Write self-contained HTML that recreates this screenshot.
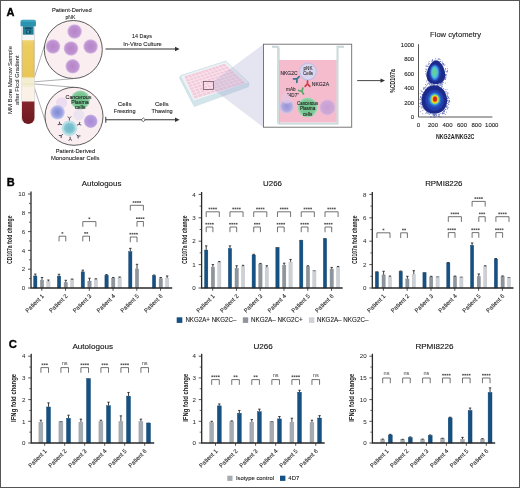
<!DOCTYPE html><html><head><meta charset="utf-8"><style>html,body{margin:0;padding:0;background:#fff;}svg{display:block;will-change:transform;font-family:"Liberation Sans",sans-serif;}</style></head><body>
<svg width="520" height="488" viewBox="0 0 520 488">
<defs>
<radialGradient id="pcell" cx="50%" cy="50%" r="50%"><stop offset="0" stop-color="#b584c8"/><stop offset="0.75" stop-color="#bf93d1"/><stop offset="1" stop-color="#dcc3e6"/></radialGradient>
<radialGradient id="gcell" cx="50%" cy="50%" r="50%"><stop offset="0" stop-color="#6fbf88"/><stop offset="0.75" stop-color="#7cc896"/><stop offset="1" stop-color="#a9dbb8"/></radialGradient>
<radialGradient id="bcell" cx="50%" cy="50%" r="50%"><stop offset="0" stop-color="#8189d6"/><stop offset="0.6" stop-color="#98a0e0"/><stop offset="1" stop-color="#c9ccf0"/></radialGradient>
<radialGradient id="lcell" cx="50%" cy="50%" r="50%"><stop offset="0" stop-color="#d4c4e6"/><stop offset="1" stop-color="#ece2f2"/></radialGradient>
<radialGradient id="tcell" cx="50%" cy="50%" r="50%"><stop offset="0" stop-color="#6fb9c8"/><stop offset="0.7" stop-color="#7ec3d0"/><stop offset="1" stop-color="#9fd2dc"/></radialGradient>
<radialGradient id="vcell" cx="50%" cy="50%" r="50%"><stop offset="0" stop-color="#a98ad6"/><stop offset="0.8" stop-color="#b59cdc"/><stop offset="1" stop-color="#cfbfe8"/></radialGradient>
<filter id="blur0" x="-30%" y="-30%" width="160%" height="160%"><feGaussianBlur stdDeviation="0.45"/></filter>
<filter id="blur1" x="-30%" y="-30%" width="160%" height="160%"><feGaussianBlur stdDeviation="0.9"/></filter>
<filter id="blur2" x="-30%" y="-30%" width="160%" height="160%"><feGaussianBlur stdDeviation="1.4"/></filter>
</defs>
<rect x="0.5" y="0.5" width="519" height="487" fill="none" stroke="#555" stroke-width="1"/>
<text x="6.5" y="15.8" font-size="11" font-weight="bold" fill="#000" stroke="#000" stroke-width="0.35">A</text>
<text x="-80" y="11.8" font-size="5.95" text-anchor="middle" fill="#222" stroke="#222" stroke-width="0.05" textLength="67.8" lengthAdjust="spacingAndGlyphs" transform="rotate(-90)">MM Bone Marrow Sample</text>
<text x="-80.15" y="18.5" font-size="5.95" text-anchor="middle" fill="#222" stroke="#222" stroke-width="0.05" textLength="49.5" lengthAdjust="spacingAndGlyphs" transform="rotate(-90)">after Ficol Gradient</text>
<g stroke="#9a9a9a" stroke-width="0.8" fill="none"><path d="M34.3 77.6 L44.6 45"/><path d="M34.3 81.8 L73 78.7"/><path d="M34.3 84 L74 87.3"/><path d="M34.3 87.5 L45.6 122"/></g>
<defs><linearGradient id="yel" x1="0" y1="0" x2="0" y2="1"><stop offset="0" stop-color="#efd472"/><stop offset="0.15" stop-color="#edcc5f"/><stop offset="1" stop-color="#e9c657"/></linearGradient><linearGradient id="red" x1="0" y1="0" x2="0" y2="1"><stop offset="0" stop-color="#84252b"/><stop offset="1" stop-color="#6e1a20"/></linearGradient></defs>
<rect x="21.8" y="26" width="12.8" height="95" rx="0.5" fill="#f6f6f6" stroke="#c4c4c4" stroke-width="0.6"/>
<rect x="22.3" y="40.2" width="11.8" height="37.2" fill="url(#yel)"/>
<path d="M22.4 40.2 V77.4 M34 40.2 V77.4" stroke="#cdb672" stroke-width="0.7"/>
<rect x="22.3" y="77.4" width="11.8" height="1" fill="#efd98e"/>
<rect x="22.3" y="78.4" width="11.8" height="9" fill="#f2eecf"/>
<rect x="22.3" y="83.6" width="11.8" height="0.8" fill="#e8e2bf"/>
<rect x="22.3" y="87.4" width="11.8" height="14" fill="#fcf1e7"/>
<path d="M22 101.4 H34.4 V117.8 A6.2 6.2 0 0 1 22 117.8 Z" fill="url(#red)"/>
<path d="M20.5 21.8 Q20.5 19.8 22.5 19.8 H33.9 Q35.9 19.8 35.9 21.8 V26.3 H20.5 Z" fill="#2a93b0"/>
<rect x="21" y="20.3" width="14.4" height="1.4" fill="#4fb0c8" opacity="0.8"/>
<rect x="22.9" y="26.2" width="10.7" height="8.5" fill="#217f99"/>
<path d="M25 27.5 H31.5 V29.2 H25 Z M26 30.5 H30.8 V33.5 H26 Z" fill="#0f4d60"/>
<rect x="27.3" y="31.2" width="1.6" height="1.4" fill="#6cc0d2"/>
<circle cx="73.3" cy="49.5" r="29" fill="#fbeef1" stroke="#4a4a4a" stroke-width="0.9"/>
<circle cx="74.6" cy="31.5" r="7.3" fill="url(#pcell)"/>
<circle cx="53" cy="46.5" r="7.3" fill="url(#pcell)"/>
<circle cx="71" cy="48.5" r="7.3" fill="url(#pcell)"/>
<circle cx="90.6" cy="46.5" r="7.3" fill="url(#pcell)"/>
<circle cx="72.7" cy="66.3" r="7.3" fill="url(#pcell)"/>
<text x="71.75" y="12" font-size="6.2" text-anchor="middle" fill="#222" stroke="#222" stroke-width="0.1" font-weight="normal" textLength="39.7" lengthAdjust="spacingAndGlyphs">Patient-Derived</text>
<text x="70.4" y="19.2" font-size="6.2" text-anchor="middle" fill="#222" stroke="#222" stroke-width="0.1" font-weight="normal" textLength="9.8" lengthAdjust="spacingAndGlyphs">pNK</text>
<circle cx="74" cy="116.3" r="29" fill="#fbeef1" stroke="#4a4a4a" stroke-width="0.9"/>
<circle cx="61.6" cy="102.8" r="5.6" fill="#ebdcf0"/>
<circle cx="57.5" cy="112.3" r="7.3" fill="url(#bcell)"/>
<circle cx="78.8" cy="114.7" r="5.6" fill="#ebe3ef"/>
<circle cx="90.7" cy="121.3" r="6.8" fill="url(#vcell)"/>
<circle cx="80.3" cy="100" r="9.6" fill="url(#gcell)"/>
<circle cx="69.4" cy="128.2" r="7.8" fill="#b9dfe6"/>
<circle cx="69.4" cy="128.2" r="5.8" fill="url(#tcell)"/>
<g transform="translate(69.4 118.3) rotate(0)" stroke="#3a4656" stroke-width="0.9" fill="none"><path d="M0 2.2 V0 M0 0 L-1.7 -1.8 M0 0 L1.7 -1.8"/></g>
<g transform="translate(60 124) rotate(-65.92)" stroke="#3a4656" stroke-width="0.9" fill="none"><path d="M0 2.2 V0 M0 0 L-1.7 -1.8 M0 0 L1.7 -1.8"/></g>
<g transform="translate(79 124.3) rotate(67.89)" stroke="#3a4656" stroke-width="0.9" fill="none"><path d="M0 2.2 V0 M0 0 L-1.7 -1.8 M0 0 L1.7 -1.8"/></g>
<g transform="translate(61.3 135.6) rotate(227.59)" stroke="#3a4656" stroke-width="0.9" fill="none"><path d="M0 2.2 V0 M0 0 L-1.7 -1.8 M0 0 L1.7 -1.8"/></g>
<g transform="translate(78 136) rotate(132.21)" stroke="#3a4656" stroke-width="0.9" fill="none"><path d="M0 2.2 V0 M0 0 L-1.7 -1.8 M0 0 L1.7 -1.8"/></g>
<g transform="translate(70.2 138.9) rotate(175.72)" stroke="#3a4656" stroke-width="0.9" fill="none"><path d="M0 2.2 V0 M0 0 L-1.7 -1.8 M0 0 L1.7 -1.8"/></g>
<text x="78.5" y="98.8" font-size="5.3" text-anchor="middle" fill="#222" stroke="#222" stroke-width="0.1" font-weight="normal" textLength="26" lengthAdjust="spacingAndGlyphs">Cancerous</text>
<text x="80" y="104" font-size="5.3" text-anchor="middle" fill="#222" stroke="#222" stroke-width="0.1" font-weight="normal" >Plasma</text>
<text x="80.2" y="109.1" font-size="5.3" text-anchor="middle" fill="#222" stroke="#222" stroke-width="0.1" font-weight="normal" >cells</text>
<text x="75.5" y="153" font-size="6.2" text-anchor="middle" fill="#222" stroke="#222" stroke-width="0.1" font-weight="normal" textLength="39.4" lengthAdjust="spacingAndGlyphs">Patient-Derived</text>
<text x="75.2" y="160.4" font-size="6.2" text-anchor="middle" fill="#222" stroke="#222" stroke-width="0.1" font-weight="normal" textLength="48.4" lengthAdjust="spacingAndGlyphs">Mononuclear Cells</text>
<text x="142" y="38.3" font-size="6.2" text-anchor="middle" fill="#222" stroke="#222" stroke-width="0.1" font-weight="normal" textLength="19.9" lengthAdjust="spacingAndGlyphs">14 Days</text>
<text x="142.5" y="45.8" font-size="6.2" text-anchor="middle" fill="#222" stroke="#222" stroke-width="0.1" font-weight="normal" textLength="38.6" lengthAdjust="spacingAndGlyphs">In-Vitro Culture</text>
<path d="M105.5 49 H176" stroke="#333" stroke-width="1.1"/><path d="M175 46.8 L179.6 49 L175 51.2Z" fill="#333"/>
<text x="124.7" y="105.5" font-size="6.2" text-anchor="middle" fill="#222" stroke="#222" stroke-width="0.1" font-weight="normal" >Cells</text>
<text x="124.7" y="113" font-size="6.2" text-anchor="middle" fill="#222" stroke="#222" stroke-width="0.1" font-weight="normal" textLength="21.7" lengthAdjust="spacingAndGlyphs">Freezing</text>
<text x="161.8" y="105.5" font-size="6.2" text-anchor="middle" fill="#222" stroke="#222" stroke-width="0.1" font-weight="normal" >Cells</text>
<text x="162.1" y="113" font-size="6.2" text-anchor="middle" fill="#222" stroke="#222" stroke-width="0.1" font-weight="normal" textLength="21.1" lengthAdjust="spacingAndGlyphs">Thawing</text>
<path d="M105.8 119.8 H176" stroke="#333" stroke-width="1.1"/><path d="M105.8 116.8 V122.8" stroke="#333" stroke-width="1"/><path d="M175 117.6 L179.6 119.8 L175 122Z" fill="#333"/>
<path d="M141.3 119.8 L143.3 117.9 L145.3 119.8 L143.3 121.7Z" fill="#fff" stroke="#333" stroke-width="0.7"/>
<path d="M180.4 75.8 L225.8 61.2 L248.8 82.7 L248.8 86.6 L194.2 106.6 L179.6 78.2 Z" fill="#d2e5eb" stroke="#bcd5dd" stroke-width="0.5"/>
<path d="M180.4 75.8 L225.8 61.2 L248.8 82.7 L193.5 101.2 Z" fill="#edf2f5" stroke="#c4dae1" stroke-width="0.5"/>
<path d="M184.5 76.6 L224.6 63.8 L245.2 83 L194.6 98.6 Z" fill="#f4cadb"/>
<path d="M187.84 75.53L198.82 97.3 M191.18 74.47L203.03 96 M194.53 73.4L207.25 94.7 M197.87 72.33L211.47 93.4 M201.21 71.27L215.68 92.1 M204.55 70.2L219.9 90.8 M207.89 69.13L224.12 89.5 M211.23 68.07L228.33 88.2 M214.57 67L232.55 86.9 M217.92 65.93L236.77 85.6 M221.26 64.87L240.98 84.3 M185.76 79.35L227.17 66.2 M187.03 82.1L229.75 68.6 M188.29 84.85L232.32 71 M189.55 87.6L234.9 73.4 M190.81 90.35L237.47 75.8 M192.07 93.1L240.05 78.2 M193.34 95.85L242.62 80.6" stroke="#f8e6ee" stroke-width="0.9" fill="none"/>
<path d="M213.5 81.3 L263.4 44.2 L263.4 127.3 L213.5 89.5 Z" fill="#a4a7cf" fill-opacity="0.29"/>
<rect x="203.3" y="81.4" width="10.2" height="8.1" fill="none" stroke="#5a4555" stroke-width="0.7"/>
<rect x="263.5" y="44.2" width="88.2" height="83" fill="#fff" stroke="#6a6a6a" stroke-width="0.9"/>
<rect x="278.3" y="60" width="59" height="62.5" fill="#f5bccd"/>
<path d="M272 47 H278.4 V123.3 H337.3 V47 H344" stroke="#d3dede" stroke-width="1.8" fill="none"/>
<path d="M272 46.1 H277.5 V122.4 M279.3 47.9 V124.2 H338.2 V47.9 M336.4 46.1 H344" stroke="#b4c4c6" stroke-width="0.45" fill="none"/>
<circle cx="308" cy="71.6" r="8.4" fill="#dad6ef" stroke="#c4bfe3" stroke-width="1.2"/>
<circle cx="286.8" cy="106.5" r="7.2" fill="url(#bcell)" opacity="0.8"/>
<circle cx="286.8" cy="98" r="5.5" fill="#e6c7e3" opacity="0.7"/>
<circle cx="327.4" cy="107.4" r="8" fill="url(#vcell)" opacity="0.6"/>
<circle cx="307.6" cy="107.4" r="10" fill="url(#gcell)"/>
<g transform="translate(297 78.8) rotate(225)" stroke="#3a7391" stroke-width="1.7" fill="none" stroke-linecap="round"><path d="M0 0 V3 M0 0 L-2.4 -2.6 M0 0 L2.4 -2.6"/></g>
<g transform="translate(307.5 83.8) rotate(180)" stroke="#cf4148" stroke-width="1.7" fill="none" stroke-linecap="round"><path d="M0 0 V3 M0 0 L-2.4 -2.6 M0 0 L2.4 -2.6"/></g>
<g transform="translate(302 91.5) rotate(-30)" stroke="#55a868" stroke-width="1.7" fill="none" stroke-linecap="round"><path d="M0 0 V3 M0 0 L-2.4 -2.6 M0 0 L2.4 -2.6"/></g>
<text x="308" y="69.6" font-size="4.6" text-anchor="middle" fill="#333" stroke="#333" stroke-width="0.1" font-weight="normal" >pNK</text>
<text x="308" y="75" font-size="4.6" text-anchor="middle" fill="#333" stroke="#333" stroke-width="0.1" font-weight="normal" >Cells</text>
<text x="289" y="75.1" font-size="4.8" text-anchor="middle" fill="#2a2a35" stroke="#2a2a35" stroke-width="0.1" font-weight="normal" textLength="17" lengthAdjust="spacingAndGlyphs">NKG2C</text>
<text x="320.4" y="85.7" font-size="4.8" text-anchor="middle" fill="#2a2a35" stroke="#2a2a35" stroke-width="0.1" font-weight="normal" textLength="17.3" lengthAdjust="spacingAndGlyphs">NKG2A</text>
<text x="290.8" y="91.3" font-size="4.6" text-anchor="middle" fill="#333" stroke="#333" stroke-width="0.1" font-weight="normal" >mAb</text>
<text x="293" y="96.5" font-size="4.6" text-anchor="middle" fill="#333" stroke="#333" stroke-width="0.1" font-weight="normal" >"4D7"</text>
<text x="307.6" y="105.2" font-size="4.6" text-anchor="middle" fill="#222" stroke="#222" stroke-width="0.1" font-weight="normal" textLength="21" lengthAdjust="spacingAndGlyphs">Cancerous</text>
<text x="307.6" y="110.4" font-size="4.6" text-anchor="middle" fill="#222" stroke="#222" stroke-width="0.1" font-weight="normal" >Plasma</text>
<text x="307.6" y="115.6" font-size="4.6" text-anchor="middle" fill="#222" stroke="#222" stroke-width="0.1" font-weight="normal" >cells</text>
<path d="M357.2 80.6 H381" stroke="#333" stroke-width="0.9"/><path d="M380.5 78.4 L385 80.6 L380.5 82.8Z" fill="#333"/>
<text x="455.6" y="36.9" font-size="7.6" text-anchor="middle" fill="#222" stroke="#222" stroke-width="0.12" font-weight="normal" >Flow cytometry</text>
<path d="M418.5 44.2 V117 H492.4" stroke="#444" stroke-width="0.9" fill="none"/>
<text x="414.2" y="119.1" font-size="6" text-anchor="end" fill="#222" stroke="#222" stroke-width="0.1" font-weight="normal" >0</text>
<text x="418.5" y="126.8" font-size="6" text-anchor="middle" fill="#222" stroke="#222" stroke-width="0.1" font-weight="normal" >0</text>
<text x="414.2" y="104.6" font-size="6" text-anchor="end" fill="#222" stroke="#222" stroke-width="0.1" font-weight="normal" >200</text>
<text x="433" y="126.8" font-size="6" text-anchor="middle" fill="#222" stroke="#222" stroke-width="0.1" font-weight="normal" >200</text>
<text x="414.2" y="90.1" font-size="6" text-anchor="end" fill="#222" stroke="#222" stroke-width="0.1" font-weight="normal" >400</text>
<text x="447.5" y="126.8" font-size="6" text-anchor="middle" fill="#222" stroke="#222" stroke-width="0.1" font-weight="normal" >400</text>
<text x="414.2" y="75.6" font-size="6" text-anchor="end" fill="#222" stroke="#222" stroke-width="0.1" font-weight="normal" >600</text>
<text x="462" y="126.8" font-size="6" text-anchor="middle" fill="#222" stroke="#222" stroke-width="0.1" font-weight="normal" >600</text>
<text x="414.2" y="61.1" font-size="6" text-anchor="end" fill="#222" stroke="#222" stroke-width="0.1" font-weight="normal" >800</text>
<text x="476.5" y="126.8" font-size="6" text-anchor="middle" fill="#222" stroke="#222" stroke-width="0.1" font-weight="normal" >800</text>
<text x="414.2" y="46.6" font-size="6" text-anchor="end" fill="#222" stroke="#222" stroke-width="0.1" font-weight="normal" >1000</text>
<text x="491.8" y="126.8" font-size="6" text-anchor="middle" fill="#222" stroke="#222" stroke-width="0.1" font-weight="normal" >1000</text>
<text x="455.2" y="138.5" font-size="7" font-weight="bold" text-anchor="middle" fill="#1a1a1a" textLength="38.4" lengthAdjust="spacingAndGlyphs">NKG2A/NKG2C</text>
<text x="-81" y="395.3" font-size="7.4" font-weight="bold" text-anchor="middle" fill="#1a1a1a" textLength="23.6" lengthAdjust="spacingAndGlyphs" transform="rotate(-90)">%CD107a</text>
<g opacity="0.8"><rect x="431.07" y="83.73" width="0.8" height="0.8" fill="#2a3a9c"/><rect x="445.34" y="78.12" width="0.8" height="0.8" fill="#2a3a9c"/><rect x="426.29" y="69.64" width="0.8" height="0.8" fill="#2a3a9c"/><rect x="426.02" y="71.74" width="0.8" height="0.8" fill="#2a3a9c"/><rect x="445.22" y="75.12" width="0.8" height="0.8" fill="#2a3a9c"/><rect x="443.76" y="78.68" width="0.8" height="0.8" fill="#2a3a9c"/><rect x="427.1" y="77.75" width="0.8" height="0.8" fill="#2a3a9c"/><rect x="437.36" y="84.36" width="0.8" height="0.8" fill="#2a3a9c"/><rect x="428.18" y="62.73" width="0.8" height="0.8" fill="#2a3a9c"/><rect x="427.83" y="79.67" width="0.8" height="0.8" fill="#2a3a9c"/><rect x="447.11" y="70.18" width="0.8" height="0.8" fill="#2a3a9c"/><rect x="433.23" y="84.31" width="0.8" height="0.8" fill="#2a3a9c"/><rect x="441.94" y="82.13" width="0.8" height="0.8" fill="#2a3a9c"/><rect x="439.76" y="60.95" width="0.8" height="0.8" fill="#2a3a9c"/><rect x="440.26" y="84.39" width="0.8" height="0.8" fill="#2a3a9c"/><rect x="428.61" y="81.34" width="0.8" height="0.8" fill="#2a3a9c"/><rect x="426.37" y="68.74" width="0.8" height="0.8" fill="#2a3a9c"/><rect x="438.31" y="83.64" width="0.8" height="0.8" fill="#2a3a9c"/><rect x="431.35" y="60.81" width="0.8" height="0.8" fill="#2a3a9c"/><rect x="427.26" y="66.09" width="0.8" height="0.8" fill="#2a3a9c"/><rect x="426.11" y="75.88" width="0.8" height="0.8" fill="#2a3a9c"/><rect x="432.14" y="59.05" width="0.8" height="0.8" fill="#2a3a9c"/><rect x="436.09" y="85.41" width="0.8" height="0.8" fill="#2a3a9c"/><rect x="442.79" y="63.56" width="0.8" height="0.8" fill="#2a3a9c"/><rect x="434.39" y="59.88" width="0.8" height="0.8" fill="#2a3a9c"/><rect x="444.89" y="82.7" width="0.8" height="0.8" fill="#2a3a9c"/><rect x="427.49" y="78.03" width="0.8" height="0.8" fill="#2a3a9c"/><rect x="425.68" y="73.16" width="0.8" height="0.8" fill="#2a3a9c"/><rect x="445.73" y="75.41" width="0.8" height="0.8" fill="#2a3a9c"/><rect x="425.77" y="66.25" width="0.8" height="0.8" fill="#2a3a9c"/><rect x="442.85" y="63.53" width="0.8" height="0.8" fill="#2a3a9c"/><rect x="426.58" y="64.71" width="0.8" height="0.8" fill="#2a3a9c"/><rect x="425.64" y="65.48" width="0.8" height="0.8" fill="#2a3a9c"/><rect x="445.09" y="68.1" width="0.8" height="0.8" fill="#2a3a9c"/><rect x="426.22" y="74.22" width="0.8" height="0.8" fill="#2a3a9c"/><rect x="432.78" y="60.83" width="0.8" height="0.8" fill="#2a3a9c"/><rect x="428.78" y="60.98" width="0.8" height="0.8" fill="#2a3a9c"/><rect x="433.65" y="83.74" width="0.8" height="0.8" fill="#2a3a9c"/><rect x="428.53" y="80.02" width="0.8" height="0.8" fill="#2a3a9c"/><rect x="426.37" y="75.13" width="0.8" height="0.8" fill="#2a3a9c"/><rect x="440.47" y="82.71" width="0.8" height="0.8" fill="#2a3a9c"/><rect x="436.8" y="60.45" width="0.8" height="0.8" fill="#2a3a9c"/><rect x="442.17" y="80.74" width="0.8" height="0.8" fill="#2a3a9c"/><rect x="442.97" y="62.91" width="0.8" height="0.8" fill="#2a3a9c"/><rect x="445.1" y="78.73" width="0.8" height="0.8" fill="#2a3a9c"/><rect x="443.02" y="64.17" width="0.8" height="0.8" fill="#2a3a9c"/><rect x="439.92" y="61.11" width="0.8" height="0.8" fill="#2a3a9c"/><rect x="427.01" y="78.62" width="0.8" height="0.8" fill="#2a3a9c"/><rect x="428.43" y="83.32" width="0.8" height="0.8" fill="#2a3a9c"/><rect x="442.28" y="83.62" width="0.8" height="0.8" fill="#2a3a9c"/><rect x="439.94" y="82.78" width="0.8" height="0.8" fill="#2a3a9c"/><rect x="425.53" y="73.49" width="0.8" height="0.8" fill="#2a3a9c"/><rect x="427.73" y="66.13" width="0.8" height="0.8" fill="#2a3a9c"/><rect x="427.4" y="78.02" width="0.8" height="0.8" fill="#2a3a9c"/><rect x="427.56" y="83.1" width="0.8" height="0.8" fill="#2a3a9c"/><rect x="431.85" y="60.2" width="0.8" height="0.8" fill="#2a3a9c"/><rect x="425.1" y="71.02" width="0.8" height="0.8" fill="#2a3a9c"/><rect x="445.64" y="76.63" width="0.8" height="0.8" fill="#2a3a9c"/><rect x="443.64" y="65.14" width="0.8" height="0.8" fill="#2a3a9c"/><rect x="439.15" y="58.56" width="0.8" height="0.8" fill="#2a3a9c"/><rect x="428.04" y="79.89" width="0.8" height="0.8" fill="#2a3a9c"/><rect x="429.24" y="63.34" width="0.8" height="0.8" fill="#2a3a9c"/><rect x="445.04" y="77.05" width="0.8" height="0.8" fill="#2a3a9c"/><rect x="440.79" y="82.52" width="0.8" height="0.8" fill="#2a3a9c"/><rect x="430.65" y="82.12" width="0.8" height="0.8" fill="#2a3a9c"/><rect x="441.17" y="81.75" width="0.8" height="0.8" fill="#2a3a9c"/><rect x="443.39" y="79.33" width="0.8" height="0.8" fill="#2a3a9c"/><rect x="442.46" y="63.89" width="0.8" height="0.8" fill="#2a3a9c"/><rect x="428.23" y="64.26" width="0.8" height="0.8" fill="#2a3a9c"/><rect x="429.9" y="82.49" width="0.8" height="0.8" fill="#2a3a9c"/><rect x="428.49" y="82.5" width="0.8" height="0.8" fill="#2a3a9c"/><rect x="446.62" y="71.72" width="0.8" height="0.8" fill="#2a3a9c"/><rect x="426.05" y="74.88" width="0.8" height="0.8" fill="#2a3a9c"/><rect x="443.27" y="79.28" width="0.8" height="0.8" fill="#2a3a9c"/><rect x="430.42" y="82.19" width="0.8" height="0.8" fill="#2a3a9c"/><rect x="441.78" y="84.36" width="0.8" height="0.8" fill="#2a3a9c"/><rect x="446.31" y="74.21" width="0.8" height="0.8" fill="#2a3a9c"/><rect x="441.64" y="81.95" width="0.8" height="0.8" fill="#2a3a9c"/><rect x="425.33" y="68.74" width="0.8" height="0.8" fill="#2a3a9c"/><rect x="445.25" y="70.7" width="0.8" height="0.8" fill="#2a3a9c"/><rect x="442.03" y="63.25" width="0.8" height="0.8" fill="#2a3a9c"/><rect x="428.85" y="81.68" width="0.8" height="0.8" fill="#2a3a9c"/><rect x="440.48" y="82.56" width="0.8" height="0.8" fill="#2a3a9c"/><rect x="437.66" y="59.22" width="0.8" height="0.8" fill="#2a3a9c"/><rect x="431.02" y="82.85" width="0.8" height="0.8" fill="#2a3a9c"/><rect x="447.08" y="70.97" width="0.8" height="0.8" fill="#2a3a9c"/><rect x="441.78" y="62.32" width="0.8" height="0.8" fill="#2a3a9c"/><rect x="434.98" y="58.32" width="0.8" height="0.8" fill="#2a3a9c"/><rect x="437.22" y="85.06" width="0.8" height="0.8" fill="#2a3a9c"/><rect x="445.06" y="74.43" width="0.8" height="0.8" fill="#2a3a9c"/><rect x="445.11" y="74.36" width="0.8" height="0.8" fill="#2a3a9c"/><rect x="432.08" y="60.46" width="0.8" height="0.8" fill="#2a3a9c"/><rect x="447.17" y="68.33" width="0.8" height="0.8" fill="#2a3a9c"/><rect x="445.93" y="71.35" width="0.8" height="0.8" fill="#2a3a9c"/><rect x="445.23" y="68.88" width="0.8" height="0.8" fill="#2a3a9c"/><rect x="437.15" y="84.51" width="0.8" height="0.8" fill="#2a3a9c"/><rect x="438.94" y="83.78" width="0.8" height="0.8" fill="#2a3a9c"/><rect x="444.54" y="64.41" width="0.8" height="0.8" fill="#2a3a9c"/><rect x="441.63" y="60.83" width="0.8" height="0.8" fill="#2a3a9c"/><rect x="438.65" y="61.01" width="0.8" height="0.8" fill="#2a3a9c"/><rect x="444.93" y="79.02" width="0.8" height="0.8" fill="#2a3a9c"/><rect x="438.02" y="58.41" width="0.8" height="0.8" fill="#2a3a9c"/><rect x="435.71" y="59.84" width="0.8" height="0.8" fill="#2a3a9c"/><rect x="438.01" y="60.93" width="0.8" height="0.8" fill="#2a3a9c"/><rect x="430.57" y="83.39" width="0.8" height="0.8" fill="#2a3a9c"/><rect x="425.97" y="81.51" width="0.8" height="0.8" fill="#2a3a9c"/><rect x="426.65" y="80.26" width="0.8" height="0.8" fill="#2a3a9c"/><rect x="440.51" y="83.11" width="0.8" height="0.8" fill="#2a3a9c"/><rect x="443.25" y="81.86" width="0.8" height="0.8" fill="#2a3a9c"/><rect x="439.66" y="59.12" width="0.8" height="0.8" fill="#2a3a9c"/><rect x="443.45" y="112.82" width="0.8" height="0.8" fill="#2a3a9c"/><rect x="425.19" y="83.99" width="0.8" height="0.8" fill="#2a3a9c"/><rect x="426.33" y="111.93" width="0.8" height="0.8" fill="#2a3a9c"/><rect x="447.49" y="100.91" width="0.8" height="0.8" fill="#2a3a9c"/><rect x="448.18" y="96.75" width="0.8" height="0.8" fill="#2a3a9c"/><rect x="447.59" y="93.08" width="0.8" height="0.8" fill="#2a3a9c"/><rect x="420.77" y="106.32" width="0.8" height="0.8" fill="#2a3a9c"/><rect x="438.03" y="115.83" width="0.8" height="0.8" fill="#2a3a9c"/><rect x="434.25" y="114.34" width="0.8" height="0.8" fill="#2a3a9c"/><rect x="422.41" y="91.52" width="0.8" height="0.8" fill="#2a3a9c"/><rect x="433.6" y="114.77" width="0.8" height="0.8" fill="#2a3a9c"/><rect x="445.63" y="91.65" width="0.8" height="0.8" fill="#2a3a9c"/><rect x="425.37" y="112.8" width="0.8" height="0.8" fill="#2a3a9c"/><rect x="445.48" y="91.12" width="0.8" height="0.8" fill="#2a3a9c"/><rect x="421.68" y="107.34" width="0.8" height="0.8" fill="#2a3a9c"/><rect x="420.87" y="96.54" width="0.8" height="0.8" fill="#2a3a9c"/><rect x="420" y="97.21" width="0.8" height="0.8" fill="#2a3a9c"/><rect x="439.74" y="112.95" width="0.8" height="0.8" fill="#2a3a9c"/><rect x="447.59" y="99.96" width="0.8" height="0.8" fill="#2a3a9c"/><rect x="420.78" y="102.16" width="0.8" height="0.8" fill="#2a3a9c"/><rect x="432.2" y="83.95" width="0.8" height="0.8" fill="#2a3a9c"/><rect x="421.11" y="97.88" width="0.8" height="0.8" fill="#2a3a9c"/><rect x="422.13" y="94.62" width="0.8" height="0.8" fill="#2a3a9c"/><rect x="421.75" y="93.98" width="0.8" height="0.8" fill="#2a3a9c"/><rect x="434.53" y="114.5" width="0.8" height="0.8" fill="#2a3a9c"/><rect x="418.89" y="98.76" width="0.8" height="0.8" fill="#2a3a9c"/><rect x="422.26" y="94.06" width="0.8" height="0.8" fill="#2a3a9c"/><rect x="419.12" y="105.96" width="0.8" height="0.8" fill="#2a3a9c"/><rect x="423.18" y="88.9" width="0.8" height="0.8" fill="#2a3a9c"/><rect x="429.83" y="86.05" width="0.8" height="0.8" fill="#2a3a9c"/><rect x="420.42" y="104.42" width="0.8" height="0.8" fill="#2a3a9c"/><rect x="446.78" y="94.28" width="0.8" height="0.8" fill="#2a3a9c"/><rect x="429.53" y="83.13" width="0.8" height="0.8" fill="#2a3a9c"/><rect x="433.47" y="116.86" width="0.8" height="0.8" fill="#2a3a9c"/><rect x="419.81" y="93.21" width="0.8" height="0.8" fill="#2a3a9c"/><rect x="443.47" y="111.4" width="0.8" height="0.8" fill="#2a3a9c"/><rect x="444.12" y="110" width="0.8" height="0.8" fill="#2a3a9c"/><rect x="435.17" y="114.21" width="0.8" height="0.8" fill="#2a3a9c"/><rect x="447.14" y="106.64" width="0.8" height="0.8" fill="#2a3a9c"/><rect x="446.58" y="89.32" width="0.8" height="0.8" fill="#2a3a9c"/><rect x="441.96" y="111.92" width="0.8" height="0.8" fill="#2a3a9c"/><rect x="443.82" y="112.81" width="0.8" height="0.8" fill="#2a3a9c"/><rect x="444.75" y="89.13" width="0.8" height="0.8" fill="#2a3a9c"/><rect x="446.94" y="95.29" width="0.8" height="0.8" fill="#2a3a9c"/><rect x="420.29" y="111.31" width="0.8" height="0.8" fill="#2a3a9c"/><rect x="440.97" y="86.73" width="0.8" height="0.8" fill="#2a3a9c"/><rect x="442.11" y="113.43" width="0.8" height="0.8" fill="#2a3a9c"/><rect x="427.14" y="112.54" width="0.8" height="0.8" fill="#2a3a9c"/><rect x="439.06" y="114.26" width="0.8" height="0.8" fill="#2a3a9c"/><rect x="449.44" y="101.67" width="0.8" height="0.8" fill="#2a3a9c"/><rect x="421.98" y="94.7" width="0.8" height="0.8" fill="#2a3a9c"/><rect x="428.03" y="112.26" width="0.8" height="0.8" fill="#2a3a9c"/><rect x="424.82" y="89.05" width="0.8" height="0.8" fill="#2a3a9c"/><rect x="447.29" y="98.25" width="0.8" height="0.8" fill="#2a3a9c"/><rect x="437.65" y="84.84" width="0.8" height="0.8" fill="#2a3a9c"/><rect x="433.13" y="114.07" width="0.8" height="0.8" fill="#2a3a9c"/><rect x="447.12" y="103.21" width="0.8" height="0.8" fill="#2a3a9c"/><rect x="444.09" y="111.05" width="0.8" height="0.8" fill="#2a3a9c"/><rect x="420.86" y="107.63" width="0.8" height="0.8" fill="#2a3a9c"/><rect x="433.62" y="115.66" width="0.8" height="0.8" fill="#2a3a9c"/><rect x="443.06" y="112.8" width="0.8" height="0.8" fill="#2a3a9c"/><rect x="430.15" y="84.85" width="0.8" height="0.8" fill="#2a3a9c"/><rect x="447.19" y="108.59" width="0.8" height="0.8" fill="#2a3a9c"/><rect x="422.15" y="106.53" width="0.8" height="0.8" fill="#2a3a9c"/><rect x="447.81" y="106.93" width="0.8" height="0.8" fill="#2a3a9c"/><rect x="438.78" y="85.07" width="0.8" height="0.8" fill="#2a3a9c"/><rect x="445.86" y="107.03" width="0.8" height="0.8" fill="#2a3a9c"/><rect x="443.09" y="88.28" width="0.8" height="0.8" fill="#2a3a9c"/><rect x="421.04" y="104.06" width="0.8" height="0.8" fill="#2a3a9c"/><rect x="447.45" y="92.37" width="0.8" height="0.8" fill="#2a3a9c"/><rect x="432.81" y="115.36" width="0.8" height="0.8" fill="#2a3a9c"/><rect x="435.44" y="115.49" width="0.8" height="0.8" fill="#2a3a9c"/><rect x="444.57" y="108.93" width="0.8" height="0.8" fill="#2a3a9c"/><rect x="438.38" y="113.79" width="0.8" height="0.8" fill="#2a3a9c"/><rect x="429.17" y="113.84" width="0.8" height="0.8" fill="#2a3a9c"/><rect x="430.58" y="116.21" width="0.8" height="0.8" fill="#2a3a9c"/><rect x="420.87" y="99.59" width="0.8" height="0.8" fill="#2a3a9c"/><rect x="448.49" y="101.4" width="0.8" height="0.8" fill="#2a3a9c"/><rect x="434.36" y="116.8" width="0.8" height="0.8" fill="#2a3a9c"/><rect x="421.93" y="94.97" width="0.8" height="0.8" fill="#2a3a9c"/><rect x="440.52" y="116.67" width="0.8" height="0.8" fill="#2a3a9c"/><rect x="444.98" y="108.91" width="0.8" height="0.8" fill="#2a3a9c"/><rect x="440.5" y="84.86" width="0.8" height="0.8" fill="#2a3a9c"/><rect x="441.32" y="86.47" width="0.8" height="0.8" fill="#2a3a9c"/><rect x="422.46" y="110.2" width="0.8" height="0.8" fill="#2a3a9c"/><rect x="447.32" y="98" width="0.8" height="0.8" fill="#2a3a9c"/><rect x="426.64" y="112.74" width="0.8" height="0.8" fill="#2a3a9c"/><rect x="424.54" y="86.97" width="0.8" height="0.8" fill="#2a3a9c"/><rect x="423.5" y="107.9" width="0.8" height="0.8" fill="#2a3a9c"/><rect x="443.53" y="110.43" width="0.8" height="0.8" fill="#2a3a9c"/><rect x="446.11" y="105.82" width="0.8" height="0.8" fill="#2a3a9c"/><rect x="441.7" y="113.05" width="0.8" height="0.8" fill="#2a3a9c"/><rect x="446.99" y="107.85" width="0.8" height="0.8" fill="#2a3a9c"/><rect x="426.97" y="84.38" width="0.8" height="0.8" fill="#2a3a9c"/><rect x="431.82" y="113.78" width="0.8" height="0.8" fill="#2a3a9c"/><rect x="420.67" y="103.59" width="0.8" height="0.8" fill="#2a3a9c"/><rect x="442.11" y="112.7" width="0.8" height="0.8" fill="#2a3a9c"/><rect x="447.32" y="96.07" width="0.8" height="0.8" fill="#2a3a9c"/><rect x="448.2" y="96.92" width="0.8" height="0.8" fill="#2a3a9c"/><rect x="447.33" y="96.44" width="0.8" height="0.8" fill="#2a3a9c"/><rect x="429.67" y="113.05" width="0.8" height="0.8" fill="#2a3a9c"/><rect x="424.87" y="109.39" width="0.8" height="0.8" fill="#2a3a9c"/><rect x="420.64" y="102.07" width="0.8" height="0.8" fill="#2a3a9c"/><rect x="421.49" y="99.17" width="0.8" height="0.8" fill="#2a3a9c"/><rect x="447.35" y="100.05" width="0.8" height="0.8" fill="#2a3a9c"/><rect x="423.45" y="108.54" width="0.8" height="0.8" fill="#2a3a9c"/><rect x="448.12" y="103.7" width="0.8" height="0.8" fill="#2a3a9c"/><rect x="435.81" y="114.12" width="0.8" height="0.8" fill="#2a3a9c"/><rect x="421.14" y="90.77" width="0.8" height="0.8" fill="#2a3a9c"/><rect x="427.06" y="87.12" width="0.8" height="0.8" fill="#2a3a9c"/><rect x="431.43" y="84.31" width="0.8" height="0.8" fill="#2a3a9c"/><rect x="427.97" y="113.43" width="0.8" height="0.8" fill="#2a3a9c"/><rect x="448.7" y="98.06" width="0.8" height="0.8" fill="#2a3a9c"/><rect x="425.13" y="86.57" width="0.8" height="0.8" fill="#2a3a9c"/><rect x="448.42" y="104.02" width="0.8" height="0.8" fill="#2a3a9c"/><rect x="423.46" y="87.02" width="0.8" height="0.8" fill="#2a3a9c"/><rect x="433.06" y="84.92" width="0.8" height="0.8" fill="#2a3a9c"/><rect x="420.87" y="97.33" width="0.8" height="0.8" fill="#2a3a9c"/><rect x="420.08" y="99.16" width="0.8" height="0.8" fill="#2a3a9c"/><rect x="441.47" y="84.44" width="0.8" height="0.8" fill="#2a3a9c"/><rect x="421.67" y="91.31" width="0.8" height="0.8" fill="#2a3a9c"/><rect x="429.39" y="84.57" width="0.8" height="0.8" fill="#2a3a9c"/><rect x="436.12" y="114.78" width="0.8" height="0.8" fill="#2a3a9c"/><rect x="426.03" y="110.79" width="0.8" height="0.8" fill="#2a3a9c"/><rect x="445.4" y="109.11" width="0.8" height="0.8" fill="#2a3a9c"/><rect x="424.26" y="87.88" width="0.8" height="0.8" fill="#2a3a9c"/><rect x="424.82" y="88.74" width="0.8" height="0.8" fill="#2a3a9c"/><rect x="448.92" y="99.94" width="0.8" height="0.8" fill="#2a3a9c"/><rect x="438.21" y="85.82" width="0.8" height="0.8" fill="#2a3a9c"/><rect x="420.03" y="95.99" width="0.8" height="0.8" fill="#2a3a9c"/><rect x="426.19" y="85.3" width="0.8" height="0.8" fill="#2a3a9c"/><rect x="434.21" y="115.14" width="0.8" height="0.8" fill="#2a3a9c"/><rect x="446.13" y="106.22" width="0.8" height="0.8" fill="#2a3a9c"/><rect x="438.67" y="116.1" width="0.8" height="0.8" fill="#2a3a9c"/><rect x="433.46" y="83.24" width="0.8" height="0.8" fill="#2a3a9c"/><rect x="424.65" y="109.49" width="0.8" height="0.8" fill="#2a3a9c"/><rect x="420.55" y="101.65" width="0.8" height="0.8" fill="#2a3a9c"/><rect x="423.04" y="88.14" width="0.8" height="0.8" fill="#2a3a9c"/><rect x="425.87" y="87.67" width="0.8" height="0.8" fill="#2a3a9c"/><rect x="434.07" y="114.45" width="0.8" height="0.8" fill="#2a3a9c"/><rect x="433.82" y="84.46" width="0.8" height="0.8" fill="#2a3a9c"/><rect x="449.14" y="100.89" width="0.8" height="0.8" fill="#2a3a9c"/><rect x="446.63" y="105.07" width="0.8" height="0.8" fill="#2a3a9c"/><rect x="429" y="83.74" width="0.8" height="0.8" fill="#2a3a9c"/><rect x="428.38" y="86.27" width="0.8" height="0.8" fill="#2a3a9c"/><rect x="420.06" y="103.21" width="0.8" height="0.8" fill="#2a3a9c"/><rect x="419.43" y="103.19" width="0.8" height="0.8" fill="#2a3a9c"/><rect x="439.14" y="115.63" width="0.8" height="0.8" fill="#2a3a9c"/><rect x="447.44" y="97.59" width="0.8" height="0.8" fill="#2a3a9c"/><rect x="421.82" y="103.3" width="0.8" height="0.8" fill="#2a3a9c"/><rect x="440.59" y="84.89" width="0.8" height="0.8" fill="#2a3a9c"/><rect x="432.85" y="114.27" width="0.8" height="0.8" fill="#2a3a9c"/><rect x="437.87" y="114.63" width="0.8" height="0.8" fill="#2a3a9c"/><rect x="422.84" y="92.35" width="0.8" height="0.8" fill="#2a3a9c"/><rect x="444.89" y="114.08" width="0.8" height="0.8" fill="#2a3a9c"/><rect x="443.46" y="110.73" width="0.8" height="0.8" fill="#2a3a9c"/><rect x="441.29" y="83.32" width="0.8" height="0.8" fill="#2a3a9c"/><rect x="430.62" y="85.62" width="0.8" height="0.8" fill="#2a3a9c"/><rect x="436.07" y="115.49" width="0.8" height="0.8" fill="#2a3a9c"/><rect x="448.2" y="102.02" width="0.8" height="0.8" fill="#2a3a9c"/><rect x="448.99" y="99.97" width="0.8" height="0.8" fill="#2a3a9c"/><rect x="430.24" y="113.33" width="0.8" height="0.8" fill="#2a3a9c"/><rect x="443.05" y="111.38" width="0.8" height="0.8" fill="#2a3a9c"/><rect x="441.93" y="86.4" width="0.8" height="0.8" fill="#2a3a9c"/><rect x="447.31" y="99.76" width="0.8" height="0.8" fill="#2a3a9c"/><rect x="445.96" y="111.72" width="0.8" height="0.8" fill="#2a3a9c"/><rect x="446.63" y="92.79" width="0.8" height="0.8" fill="#2a3a9c"/><rect x="430.4" y="117.06" width="0.8" height="0.8" fill="#2a3a9c"/><rect x="422.36" y="113.52" width="0.8" height="0.8" fill="#2a3a9c"/><rect x="420.48" y="89.85" width="0.8" height="0.8" fill="#2a3a9c"/></g>
<g filter="url(#blur0)">
<path d="M436 60.6 C440.5 60.6 445.2 68 445.3 75 C445.4 81 441 84.2 435.8 84.2 C430.5 84.2 426.5 81 426.7 75.5 C426.9 68 431.5 60.6 436 60.6Z" fill="#1d2b8c"/>
<path d="M434.2 85.2 C441.5 85 447.2 92 447.2 100.5 C447.2 108.5 441.5 113.8 434.5 113.8 C427 113.8 421.6 108.5 421.6 101 C421.6 92.5 427 85.3 434.2 85.2Z" fill="#1d2b8c"/>
<ellipse cx="435" cy="72.8" rx="5.8" ry="8.8" fill="#2743b2"/>
<ellipse cx="434.8" cy="72.6" rx="4.4" ry="7.4" fill="#3a86d8"/>
<ellipse cx="434.7" cy="72.4" rx="3.4" ry="6.2" fill="#4cbcdf"/>
<ellipse cx="434.5" cy="72.3" rx="2.2" ry="4.4" fill="#64cf9c"/>
<ellipse cx="434.6" cy="100.3" rx="9.4" ry="10.5" fill="#2440b0"/>
<ellipse cx="434.7" cy="99.7" rx="6.9" ry="7.6" fill="#2c5ec6"/>
<ellipse cx="434.8" cy="99.3" rx="5.4" ry="6.1" fill="#3ea3df"/>
<ellipse cx="434.9" cy="99.4" rx="4.4" ry="4.9" fill="#7ad46a"/>
<ellipse cx="434.95" cy="99.4" rx="3.4" ry="4.1" fill="#eee331"/>
<ellipse cx="435" cy="99.3" rx="2.6" ry="3.3" fill="#f29a1e"/>
<ellipse cx="435" cy="99.1" rx="2" ry="2.6" fill="#d3261a"/>
</g>
<text x="6.8" y="185.8" font-size="11" font-weight="bold" fill="#000" stroke="#000" stroke-width="0.35">B</text>
<rect x="33.65" y="275.98" width="3.3" height="12.02" fill="#155283" stroke="#0e406e" stroke-width="0.4"/>
<path d="M35.3 275.78V274.09M34.1 274.09H36.5" stroke="#2a2a2a" stroke-width="0.9" fill="none"/>
<rect x="40.35" y="280.12" width="3.3" height="7.88" fill="#8e959d" stroke="#7d848c" stroke-width="0.4"/>
<path d="M42 279.92V277.47M40.8 277.47H43.2" stroke="#2a2a2a" stroke-width="0.9" fill="none"/>
<rect x="46.75" y="281.53" width="3.3" height="6.47" fill="#cdd0d5" stroke="#bcc0c5" stroke-width="0.4"/>
<path d="M48.4 281.33V280.01M47.2 280.01H49.6" stroke="#2a2a2a" stroke-width="0.9" fill="none"/>
<rect x="57.4" y="276.07" width="3.3" height="11.93" fill="#155283" stroke="#0e406e" stroke-width="0.4"/>
<path d="M59.05 275.87V274.28M57.85 274.28H60.25" stroke="#2a2a2a" stroke-width="0.9" fill="none"/>
<rect x="64.1" y="282.56" width="3.3" height="5.44" fill="#8e959d" stroke="#7d848c" stroke-width="0.4"/>
<path d="M65.75 282.36V280.29M64.55 280.29H66.95" stroke="#2a2a2a" stroke-width="0.9" fill="none"/>
<rect x="70.5" y="279.74" width="3.3" height="8.26" fill="#cdd0d5" stroke="#bcc0c5" stroke-width="0.4"/>
<path d="M72.15 279.54V279.07M70.95 279.07H73.35" stroke="#2a2a2a" stroke-width="0.9" fill="none"/>
<rect x="81.15" y="271.84" width="3.3" height="16.16" fill="#155283" stroke="#0e406e" stroke-width="0.4"/>
<path d="M82.8 271.64V270.14M81.6 270.14H84" stroke="#2a2a2a" stroke-width="0.9" fill="none"/>
<rect x="87.85" y="281.06" width="3.3" height="6.94" fill="#8e959d" stroke="#7d848c" stroke-width="0.4"/>
<path d="M89.5 280.86V278.22M88.3 278.22H90.7" stroke="#2a2a2a" stroke-width="0.9" fill="none"/>
<rect x="94.25" y="279.55" width="3.3" height="8.45" fill="#cdd0d5" stroke="#bcc0c5" stroke-width="0.4"/>
<path d="M95.9 279.35V278.79M94.7 278.79H97.1" stroke="#2a2a2a" stroke-width="0.9" fill="none"/>
<rect x="104.9" y="275.23" width="3.3" height="12.77" fill="#155283" stroke="#0e406e" stroke-width="0.4"/>
<path d="M106.55 275.03V274.56M105.35 274.56H107.75" stroke="#2a2a2a" stroke-width="0.9" fill="none"/>
<rect x="111.6" y="278.14" width="3.3" height="9.86" fill="#8e959d" stroke="#7d848c" stroke-width="0.4"/>
<path d="M113.25 277.94V277.47M112.05 277.47H114.45" stroke="#2a2a2a" stroke-width="0.9" fill="none"/>
<rect x="118" y="277.67" width="3.3" height="10.33" fill="#cdd0d5" stroke="#bcc0c5" stroke-width="0.4"/>
<path d="M119.65 277.47V277M118.45 277H120.85" stroke="#2a2a2a" stroke-width="0.9" fill="none"/>
<rect x="128.65" y="251.73" width="3.3" height="36.27" fill="#155283" stroke="#0e406e" stroke-width="0.4"/>
<path d="M130.3 251.53V248.33M129.1 248.33H131.5" stroke="#2a2a2a" stroke-width="0.9" fill="none"/>
<rect x="135.35" y="268.93" width="3.3" height="19.07" fill="#8e959d" stroke="#7d848c" stroke-width="0.4"/>
<path d="M137 268.73V264.31M135.8 264.31H138.2" stroke="#2a2a2a" stroke-width="0.9" fill="none"/>
<rect x="152.4" y="275.79" width="3.3" height="12.21" fill="#155283" stroke="#0e406e" stroke-width="0.4"/>
<path d="M154.05 275.59V275.03M152.85 275.03H155.25" stroke="#2a2a2a" stroke-width="0.9" fill="none"/>
<rect x="159.1" y="278.8" width="3.3" height="9.2" fill="#8e959d" stroke="#7d848c" stroke-width="0.4"/>
<path d="M160.75 278.6V277.47M159.55 277.47H161.95" stroke="#2a2a2a" stroke-width="0.9" fill="none"/>
<rect x="165.5" y="278.24" width="3.3" height="9.76" fill="#cdd0d5" stroke="#bcc0c5" stroke-width="0.4"/>
<path d="M167.15 278.04V275.97M165.95 275.97H168.35" stroke="#2a2a2a" stroke-width="0.9" fill="none"/>
<path d="M31 191.5V288H172.2" stroke="#2a2a2a" stroke-width="1.3" fill="none"/>
<path d="M28 288H31" stroke="#2a2a2a" stroke-width="0.8"/>
<text x="25.2" y="290.2" font-size="6.2" text-anchor="end" fill="#2a2a2a" stroke="#2a2a2a" stroke-width="0.03">0</text>
<path d="M28 269.2H31" stroke="#2a2a2a" stroke-width="0.8"/>
<text x="25.2" y="271.4" font-size="6.2" text-anchor="end" fill="#2a2a2a" stroke="#2a2a2a" stroke-width="0.03">2</text>
<path d="M28 250.4H31" stroke="#2a2a2a" stroke-width="0.8"/>
<text x="25.2" y="252.6" font-size="6.2" text-anchor="end" fill="#2a2a2a" stroke="#2a2a2a" stroke-width="0.03">4</text>
<path d="M28 231.6H31" stroke="#2a2a2a" stroke-width="0.8"/>
<text x="25.2" y="233.8" font-size="6.2" text-anchor="end" fill="#2a2a2a" stroke="#2a2a2a" stroke-width="0.03">6</text>
<path d="M28 212.8H31" stroke="#2a2a2a" stroke-width="0.8"/>
<text x="25.2" y="215" font-size="6.2" text-anchor="end" fill="#2a2a2a" stroke="#2a2a2a" stroke-width="0.03">8</text>
<path d="M28 194H31" stroke="#2a2a2a" stroke-width="0.8"/>
<text x="25.2" y="196.2" font-size="6.2" text-anchor="end" fill="#2a2a2a" stroke="#2a2a2a" stroke-width="0.03">10</text>
<path d="M29 278.6H31" stroke="#2a2a2a" stroke-width="0.7"/>
<path d="M29 259.8H31" stroke="#2a2a2a" stroke-width="0.7"/>
<path d="M29 241H31" stroke="#2a2a2a" stroke-width="0.7"/>
<path d="M29 222.2H31" stroke="#2a2a2a" stroke-width="0.7"/>
<path d="M29 203.4H31" stroke="#2a2a2a" stroke-width="0.7"/>
<path d="M41.8 288V290.8" stroke="#2a2a2a" stroke-width="0.8"/>
<text x="44.3" y="296.5" font-size="5.9" text-anchor="end" fill="#222" stroke="#222" stroke-width="0.08" transform="rotate(-45 44.3 296.5)">Patient 1</text>
<path d="M65.55 288V290.8" stroke="#2a2a2a" stroke-width="0.8"/>
<text x="68.05" y="296.5" font-size="5.9" text-anchor="end" fill="#222" stroke="#222" stroke-width="0.08" transform="rotate(-45 68.05 296.5)">Patient 2</text>
<path d="M89.3 288V290.8" stroke="#2a2a2a" stroke-width="0.8"/>
<text x="91.8" y="296.5" font-size="5.9" text-anchor="end" fill="#222" stroke="#222" stroke-width="0.08" transform="rotate(-45 91.8 296.5)">Patient 3</text>
<path d="M113.05 288V290.8" stroke="#2a2a2a" stroke-width="0.8"/>
<text x="115.55" y="296.5" font-size="5.9" text-anchor="end" fill="#222" stroke="#222" stroke-width="0.08" transform="rotate(-45 115.55 296.5)">Patient 4</text>
<path d="M136.8 288V290.8" stroke="#2a2a2a" stroke-width="0.8"/>
<text x="139.3" y="296.5" font-size="5.9" text-anchor="end" fill="#222" stroke="#222" stroke-width="0.08" transform="rotate(-45 139.3 296.5)">Patient 5</text>
<path d="M160.55 288V290.8" stroke="#2a2a2a" stroke-width="0.8"/>
<text x="163.05" y="296.5" font-size="5.9" text-anchor="end" fill="#222" stroke="#222" stroke-width="0.08" transform="rotate(-45 163.05 296.5)">Patient 6</text>
<path d="M59.05 241.4V236.2H65.75V241.4" stroke="#444" stroke-width="0.75" fill="none"/>
<rect x="61.55" y="232.1" width="1.7" height="1.6" fill="#555"/>
<path d="M82.8 241.4V236.2H89.5V241.4" stroke="#444" stroke-width="0.75" fill="none"/>
<rect x="84.2" y="232.1" width="1.7" height="1.6" fill="#555"/>
<rect x="86.4" y="232.1" width="1.7" height="1.6" fill="#555"/>
<path d="M82.8 226.8V221.6H95.9V226.8" stroke="#444" stroke-width="0.75" fill="none"/>
<rect x="88.5" y="217.5" width="1.7" height="1.6" fill="#555"/>
<path d="M130.3 242.2V237H137V242.2" stroke="#444" stroke-width="0.75" fill="none"/>
<rect x="129.5" y="232.9" width="1.7" height="1.6" fill="#555"/>
<rect x="131.7" y="232.9" width="1.7" height="1.6" fill="#555"/>
<rect x="133.9" y="232.9" width="1.7" height="1.6" fill="#555"/>
<rect x="136.1" y="232.9" width="1.7" height="1.6" fill="#555"/>
<path d="M137 226.7V221.5H143.4V226.7" stroke="#444" stroke-width="0.75" fill="none"/>
<rect x="136.05" y="217.4" width="1.7" height="1.6" fill="#555"/>
<rect x="138.25" y="217.4" width="1.7" height="1.6" fill="#555"/>
<rect x="140.45" y="217.4" width="1.7" height="1.6" fill="#555"/>
<rect x="142.65" y="217.4" width="1.7" height="1.6" fill="#555"/>
<path d="M130.3 210.5V205.3H143.4V210.5" stroke="#444" stroke-width="0.75" fill="none"/>
<rect x="132.7" y="201.2" width="1.7" height="1.6" fill="#555"/>
<rect x="134.9" y="201.2" width="1.7" height="1.6" fill="#555"/>
<rect x="137.1" y="201.2" width="1.7" height="1.6" fill="#555"/>
<rect x="139.3" y="201.2" width="1.7" height="1.6" fill="#555"/>
<text x="101.6" y="186.4" font-size="7.9" text-anchor="middle" fill="#111" stroke="#111" stroke-width="0.12" font-weight="normal" >Autologous</text>
<text x="12.3" y="239.7" font-size="6.8" font-weight="bold" text-anchor="middle" fill="#1a1a1a" textLength="48.4" lengthAdjust="spacingAndGlyphs" transform="rotate(-90 12.3 239.7)">CD107a fold change</text>
<rect x="204.55" y="250.06" width="3.3" height="37.94" fill="#155283" stroke="#0e406e" stroke-width="0.4"/>
<path d="M206.2 249.86V245.88M205 245.88H207.4" stroke="#2a2a2a" stroke-width="0.9" fill="none"/>
<rect x="211.25" y="267.14" width="3.3" height="20.86" fill="#8e959d" stroke="#7d848c" stroke-width="0.4"/>
<path d="M212.9 266.94V264.6M211.7 264.6H214.1" stroke="#2a2a2a" stroke-width="0.9" fill="none"/>
<rect x="217.65" y="262.46" width="3.3" height="25.54" fill="#cdd0d5" stroke="#bcc0c5" stroke-width="0.4"/>
<path d="M219.3 262.26V261.56M218.1 261.56H220.5" stroke="#2a2a2a" stroke-width="0.9" fill="none"/>
<rect x="228.31" y="248.42" width="3.3" height="39.58" fill="#155283" stroke="#0e406e" stroke-width="0.4"/>
<path d="M229.96 248.22V245.88M228.76 245.88H231.16" stroke="#2a2a2a" stroke-width="0.9" fill="none"/>
<rect x="235.01" y="268.31" width="3.3" height="19.69" fill="#8e959d" stroke="#7d848c" stroke-width="0.4"/>
<path d="M236.66 268.11V265.77M235.46 265.77H237.86" stroke="#2a2a2a" stroke-width="0.9" fill="none"/>
<rect x="241.41" y="266.67" width="3.3" height="21.33" fill="#cdd0d5" stroke="#bcc0c5" stroke-width="0.4"/>
<path d="M243.06 266.47V265.3M241.86 265.3H244.26" stroke="#2a2a2a" stroke-width="0.9" fill="none"/>
<rect x="252.07" y="254.97" width="3.3" height="33.03" fill="#155283" stroke="#0e406e" stroke-width="0.4"/>
<path d="M253.72 254.77V254.3M252.52 254.3H254.92" stroke="#2a2a2a" stroke-width="0.9" fill="none"/>
<rect x="258.77" y="264.1" width="3.3" height="23.9" fill="#8e959d" stroke="#7d848c" stroke-width="0.4"/>
<path d="M260.42 263.9V263.43M259.22 263.43H261.62" stroke="#2a2a2a" stroke-width="0.9" fill="none"/>
<rect x="265.17" y="267.61" width="3.3" height="20.39" fill="#cdd0d5" stroke="#bcc0c5" stroke-width="0.4"/>
<path d="M266.82 267.41V265.77M265.62 265.77H268.02" stroke="#2a2a2a" stroke-width="0.9" fill="none"/>
<rect x="275.83" y="247.48" width="3.3" height="40.52" fill="#155283" stroke="#0e406e" stroke-width="0.4"/>
<path d="M276.28 247.58H278.68" stroke="#444" stroke-width="0.7" fill="none"/>
<rect x="282.53" y="265.27" width="3.3" height="22.73" fill="#8e959d" stroke="#7d848c" stroke-width="0.4"/>
<path d="M284.18 265.07V263.2M282.98 263.2H285.38" stroke="#2a2a2a" stroke-width="0.9" fill="none"/>
<rect x="288.93" y="261.99" width="3.3" height="26.01" fill="#cdd0d5" stroke="#bcc0c5" stroke-width="0.4"/>
<path d="M290.58 261.79V259.45M289.38 259.45H291.78" stroke="#2a2a2a" stroke-width="0.9" fill="none"/>
<rect x="299.59" y="240.23" width="3.3" height="47.77" fill="#155283" stroke="#0e406e" stroke-width="0.4"/>
<path d="M300.04 240.33H302.44" stroke="#444" stroke-width="0.7" fill="none"/>
<rect x="306.29" y="266.67" width="3.3" height="21.33" fill="#8e959d" stroke="#7d848c" stroke-width="0.4"/>
<path d="M307.94 266.47V265.77M306.74 265.77H309.14" stroke="#2a2a2a" stroke-width="0.9" fill="none"/>
<rect x="312.69" y="270.65" width="3.3" height="17.35" fill="#cdd0d5" stroke="#bcc0c5" stroke-width="0.4"/>
<path d="M313.14 270.75H315.54" stroke="#444" stroke-width="0.7" fill="none"/>
<rect x="323.35" y="238.59" width="3.3" height="49.41" fill="#155283" stroke="#0e406e" stroke-width="0.4"/>
<path d="M323.8 238.69H326.2" stroke="#444" stroke-width="0.7" fill="none"/>
<rect x="330.05" y="269.01" width="3.3" height="18.99" fill="#8e959d" stroke="#7d848c" stroke-width="0.4"/>
<path d="M331.7 268.81V267.41M330.5 267.41H332.9" stroke="#2a2a2a" stroke-width="0.9" fill="none"/>
<rect x="336.45" y="267.61" width="3.3" height="20.39" fill="#cdd0d5" stroke="#bcc0c5" stroke-width="0.4"/>
<path d="M338.1 267.41V266.47M336.9 266.47H339.3" stroke="#2a2a2a" stroke-width="0.9" fill="none"/>
<path d="M201.6 191.9V288H342.7" stroke="#2a2a2a" stroke-width="1.3" fill="none"/>
<path d="M198.6 288H201.6" stroke="#2a2a2a" stroke-width="0.8"/>
<text x="195.8" y="290.2" font-size="6.2" text-anchor="end" fill="#2a2a2a" stroke="#2a2a2a" stroke-width="0.03">0</text>
<path d="M198.6 264.6H201.6" stroke="#2a2a2a" stroke-width="0.8"/>
<text x="195.8" y="266.8" font-size="6.2" text-anchor="end" fill="#2a2a2a" stroke="#2a2a2a" stroke-width="0.03">1</text>
<path d="M198.6 241.2H201.6" stroke="#2a2a2a" stroke-width="0.8"/>
<text x="195.8" y="243.4" font-size="6.2" text-anchor="end" fill="#2a2a2a" stroke="#2a2a2a" stroke-width="0.03">2</text>
<path d="M198.6 217.8H201.6" stroke="#2a2a2a" stroke-width="0.8"/>
<text x="195.8" y="220" font-size="6.2" text-anchor="end" fill="#2a2a2a" stroke="#2a2a2a" stroke-width="0.03">3</text>
<path d="M198.6 194.4H201.6" stroke="#2a2a2a" stroke-width="0.8"/>
<text x="195.8" y="196.6" font-size="6.2" text-anchor="end" fill="#2a2a2a" stroke="#2a2a2a" stroke-width="0.03">4</text>
<path d="M199.6 276.3H201.6" stroke="#2a2a2a" stroke-width="0.7"/>
<path d="M199.6 252.9H201.6" stroke="#2a2a2a" stroke-width="0.7"/>
<path d="M199.6 229.5H201.6" stroke="#2a2a2a" stroke-width="0.7"/>
<path d="M199.6 206.1H201.6" stroke="#2a2a2a" stroke-width="0.7"/>
<path d="M212.7 288V290.8" stroke="#2a2a2a" stroke-width="0.8"/>
<text x="215.2" y="296.5" font-size="5.9" text-anchor="end" fill="#222" stroke="#222" stroke-width="0.08" transform="rotate(-45 215.2 296.5)">Patient 1</text>
<path d="M236.46 288V290.8" stroke="#2a2a2a" stroke-width="0.8"/>
<text x="238.96" y="296.5" font-size="5.9" text-anchor="end" fill="#222" stroke="#222" stroke-width="0.08" transform="rotate(-45 238.96 296.5)">Patient 2</text>
<path d="M260.22 288V290.8" stroke="#2a2a2a" stroke-width="0.8"/>
<text x="262.72" y="296.5" font-size="5.9" text-anchor="end" fill="#222" stroke="#222" stroke-width="0.08" transform="rotate(-45 262.72 296.5)">Patient 3</text>
<path d="M283.98 288V290.8" stroke="#2a2a2a" stroke-width="0.8"/>
<text x="286.48" y="296.5" font-size="5.9" text-anchor="end" fill="#222" stroke="#222" stroke-width="0.08" transform="rotate(-45 286.48 296.5)">Patient 4</text>
<path d="M307.74 288V290.8" stroke="#2a2a2a" stroke-width="0.8"/>
<text x="310.24" y="296.5" font-size="5.9" text-anchor="end" fill="#222" stroke="#222" stroke-width="0.08" transform="rotate(-45 310.24 296.5)">Patient 5</text>
<path d="M331.5 288V290.8" stroke="#2a2a2a" stroke-width="0.8"/>
<text x="334" y="296.5" font-size="5.9" text-anchor="end" fill="#222" stroke="#222" stroke-width="0.08" transform="rotate(-45 334 296.5)">Patient 6</text>
<path d="M206.2 217V211.8H219.3V217" stroke="#444" stroke-width="0.75" fill="none"/>
<rect x="208.6" y="207.7" width="1.7" height="1.6" fill="#555"/>
<rect x="210.8" y="207.7" width="1.7" height="1.6" fill="#555"/>
<rect x="213" y="207.7" width="1.7" height="1.6" fill="#555"/>
<rect x="215.2" y="207.7" width="1.7" height="1.6" fill="#555"/>
<path d="M229.96 217V211.8H243.06V217" stroke="#444" stroke-width="0.75" fill="none"/>
<rect x="232.36" y="207.7" width="1.7" height="1.6" fill="#555"/>
<rect x="234.56" y="207.7" width="1.7" height="1.6" fill="#555"/>
<rect x="236.76" y="207.7" width="1.7" height="1.6" fill="#555"/>
<rect x="238.96" y="207.7" width="1.7" height="1.6" fill="#555"/>
<path d="M253.72 217V211.8H266.82V217" stroke="#444" stroke-width="0.75" fill="none"/>
<rect x="256.12" y="207.7" width="1.7" height="1.6" fill="#555"/>
<rect x="258.32" y="207.7" width="1.7" height="1.6" fill="#555"/>
<rect x="260.52" y="207.7" width="1.7" height="1.6" fill="#555"/>
<rect x="262.72" y="207.7" width="1.7" height="1.6" fill="#555"/>
<path d="M277.48 217V211.8H290.58V217" stroke="#444" stroke-width="0.75" fill="none"/>
<rect x="279.88" y="207.7" width="1.7" height="1.6" fill="#555"/>
<rect x="282.08" y="207.7" width="1.7" height="1.6" fill="#555"/>
<rect x="284.28" y="207.7" width="1.7" height="1.6" fill="#555"/>
<rect x="286.48" y="207.7" width="1.7" height="1.6" fill="#555"/>
<path d="M301.24 217V211.8H314.34V217" stroke="#444" stroke-width="0.75" fill="none"/>
<rect x="303.64" y="207.7" width="1.7" height="1.6" fill="#555"/>
<rect x="305.84" y="207.7" width="1.7" height="1.6" fill="#555"/>
<rect x="308.04" y="207.7" width="1.7" height="1.6" fill="#555"/>
<rect x="310.24" y="207.7" width="1.7" height="1.6" fill="#555"/>
<path d="M325 217V211.8H338.1V217" stroke="#444" stroke-width="0.75" fill="none"/>
<rect x="327.4" y="207.7" width="1.7" height="1.6" fill="#555"/>
<rect x="329.6" y="207.7" width="1.7" height="1.6" fill="#555"/>
<rect x="331.8" y="207.7" width="1.7" height="1.6" fill="#555"/>
<rect x="334" y="207.7" width="1.7" height="1.6" fill="#555"/>
<path d="M206.2 232.2V227H212.9V232.2" stroke="#444" stroke-width="0.75" fill="none"/>
<rect x="205.4" y="222.9" width="1.7" height="1.6" fill="#555"/>
<rect x="207.6" y="222.9" width="1.7" height="1.6" fill="#555"/>
<rect x="209.8" y="222.9" width="1.7" height="1.6" fill="#555"/>
<rect x="212" y="222.9" width="1.7" height="1.6" fill="#555"/>
<path d="M229.96 232.2V227H236.66V232.2" stroke="#444" stroke-width="0.75" fill="none"/>
<rect x="229.16" y="222.9" width="1.7" height="1.6" fill="#555"/>
<rect x="231.36" y="222.9" width="1.7" height="1.6" fill="#555"/>
<rect x="233.56" y="222.9" width="1.7" height="1.6" fill="#555"/>
<rect x="235.76" y="222.9" width="1.7" height="1.6" fill="#555"/>
<path d="M253.72 232.2V227H260.42V232.2" stroke="#444" stroke-width="0.75" fill="none"/>
<rect x="254.02" y="222.9" width="1.7" height="1.6" fill="#555"/>
<rect x="256.22" y="222.9" width="1.7" height="1.6" fill="#555"/>
<rect x="258.42" y="222.9" width="1.7" height="1.6" fill="#555"/>
<path d="M277.48 232.2V227H284.18V232.2" stroke="#444" stroke-width="0.75" fill="none"/>
<rect x="276.68" y="222.9" width="1.7" height="1.6" fill="#555"/>
<rect x="278.88" y="222.9" width="1.7" height="1.6" fill="#555"/>
<rect x="281.08" y="222.9" width="1.7" height="1.6" fill="#555"/>
<rect x="283.28" y="222.9" width="1.7" height="1.6" fill="#555"/>
<path d="M301.24 232.2V227H307.94V232.2" stroke="#444" stroke-width="0.75" fill="none"/>
<rect x="300.44" y="222.9" width="1.7" height="1.6" fill="#555"/>
<rect x="302.64" y="222.9" width="1.7" height="1.6" fill="#555"/>
<rect x="304.84" y="222.9" width="1.7" height="1.6" fill="#555"/>
<rect x="307.04" y="222.9" width="1.7" height="1.6" fill="#555"/>
<path d="M325 232.2V227H331.7V232.2" stroke="#444" stroke-width="0.75" fill="none"/>
<rect x="324.2" y="222.9" width="1.7" height="1.6" fill="#555"/>
<rect x="326.4" y="222.9" width="1.7" height="1.6" fill="#555"/>
<rect x="328.6" y="222.9" width="1.7" height="1.6" fill="#555"/>
<rect x="330.8" y="222.9" width="1.7" height="1.6" fill="#555"/>
<text x="272.5" y="186.4" font-size="7.9" text-anchor="middle" fill="#111" stroke="#111" stroke-width="0.12" font-weight="normal" >U266</text>
<text x="186.9" y="239.7" font-size="6.8" font-weight="bold" text-anchor="middle" fill="#1a1a1a" textLength="48.4" lengthAdjust="spacingAndGlyphs" transform="rotate(-90 186.9 239.7)">CD107a fold change</text>
<rect x="375.3" y="271.82" width="3.2" height="16.18" fill="#155283" stroke="#0e406e" stroke-width="0.4"/>
<path d="M375.7 271.92H378.1" stroke="#444" stroke-width="0.7" fill="none"/>
<rect x="382" y="274.86" width="3.2" height="13.14" fill="#8e959d" stroke="#7d848c" stroke-width="0.4"/>
<path d="M383.6 274.66V271.27M382.4 271.27H384.8" stroke="#2a2a2a" stroke-width="0.9" fill="none"/>
<rect x="388.4" y="276.97" width="3.2" height="11.03" fill="#cdd0d5" stroke="#bcc0c5" stroke-width="0.4"/>
<path d="M390 276.77V276.07M388.8 276.07H391.2" stroke="#2a2a2a" stroke-width="0.9" fill="none"/>
<rect x="399.1" y="271.47" width="3.2" height="16.53" fill="#155283" stroke="#0e406e" stroke-width="0.4"/>
<path d="M400.7 271.27V271.04M399.5 271.04H401.9" stroke="#2a2a2a" stroke-width="0.9" fill="none"/>
<rect x="405.8" y="278.96" width="3.2" height="9.04" fill="#8e959d" stroke="#7d848c" stroke-width="0.4"/>
<path d="M407.4 278.76V276.3M406.2 276.3H408.6" stroke="#2a2a2a" stroke-width="0.9" fill="none"/>
<rect x="412.2" y="274.39" width="3.2" height="13.61" fill="#cdd0d5" stroke="#bcc0c5" stroke-width="0.4"/>
<path d="M413.8 274.19V270.68M412.6 270.68H415" stroke="#2a2a2a" stroke-width="0.9" fill="none"/>
<rect x="422.9" y="272.64" width="3.2" height="15.36" fill="#155283" stroke="#0e406e" stroke-width="0.4"/>
<path d="M423.3 272.74H425.7" stroke="#444" stroke-width="0.7" fill="none"/>
<rect x="429.6" y="276.97" width="3.2" height="11.03" fill="#8e959d" stroke="#7d848c" stroke-width="0.4"/>
<path d="M431.2 276.77V276.3M430 276.3H432.4" stroke="#2a2a2a" stroke-width="0.9" fill="none"/>
<rect x="436" y="276.73" width="3.2" height="11.27" fill="#cdd0d5" stroke="#bcc0c5" stroke-width="0.4"/>
<path d="M436.4 276.83H438.8" stroke="#444" stroke-width="0.7" fill="none"/>
<rect x="446.7" y="262.93" width="3.2" height="25.07" fill="#155283" stroke="#0e406e" stroke-width="0.4"/>
<path d="M448.3 262.73V262.49M447.1 262.49H449.5" stroke="#2a2a2a" stroke-width="0.9" fill="none"/>
<rect x="453.4" y="276.73" width="3.2" height="11.27" fill="#8e959d" stroke="#7d848c" stroke-width="0.4"/>
<path d="M455 276.53V276.07M453.8 276.07H456.2" stroke="#2a2a2a" stroke-width="0.9" fill="none"/>
<rect x="459.8" y="276.97" width="3.2" height="11.03" fill="#cdd0d5" stroke="#bcc0c5" stroke-width="0.4"/>
<path d="M460.2 277.07H462.6" stroke="#444" stroke-width="0.7" fill="none"/>
<rect x="470.5" y="245.26" width="3.2" height="42.74" fill="#155283" stroke="#0e406e" stroke-width="0.4"/>
<path d="M472.1 245.06V242.95M470.9 242.95H473.3" stroke="#2a2a2a" stroke-width="0.9" fill="none"/>
<rect x="477.2" y="276.5" width="3.2" height="11.5" fill="#8e959d" stroke="#7d848c" stroke-width="0.4"/>
<path d="M478.8 276.3V273.96M477.6 273.96H480" stroke="#2a2a2a" stroke-width="0.9" fill="none"/>
<rect x="483.6" y="266.67" width="3.2" height="21.33" fill="#cdd0d5" stroke="#bcc0c5" stroke-width="0.4"/>
<path d="M485.2 266.47V265.77M484 265.77H486.4" stroke="#2a2a2a" stroke-width="0.9" fill="none"/>
<rect x="494.3" y="258.95" width="3.2" height="29.05" fill="#155283" stroke="#0e406e" stroke-width="0.4"/>
<path d="M495.9 258.75V258.52M494.7 258.52H497.1" stroke="#2a2a2a" stroke-width="0.9" fill="none"/>
<rect x="501" y="276.73" width="3.2" height="11.27" fill="#8e959d" stroke="#7d848c" stroke-width="0.4"/>
<path d="M502.6 276.53V275.95M501.4 275.95H503.8" stroke="#2a2a2a" stroke-width="0.9" fill="none"/>
<rect x="507.4" y="277.44" width="3.2" height="10.56" fill="#cdd0d5" stroke="#bcc0c5" stroke-width="0.4"/>
<path d="M507.8 277.54H510.2" stroke="#444" stroke-width="0.7" fill="none"/>
<path d="M372.3 191.9V288H513.5" stroke="#2a2a2a" stroke-width="1.3" fill="none"/>
<path d="M369.3 288H372.3" stroke="#2a2a2a" stroke-width="0.8"/>
<text x="366.5" y="290.2" font-size="6.2" text-anchor="end" fill="#2a2a2a" stroke="#2a2a2a" stroke-width="0.03">0</text>
<path d="M369.3 264.6H372.3" stroke="#2a2a2a" stroke-width="0.8"/>
<text x="366.5" y="266.8" font-size="6.2" text-anchor="end" fill="#2a2a2a" stroke="#2a2a2a" stroke-width="0.03">2</text>
<path d="M369.3 241.2H372.3" stroke="#2a2a2a" stroke-width="0.8"/>
<text x="366.5" y="243.4" font-size="6.2" text-anchor="end" fill="#2a2a2a" stroke="#2a2a2a" stroke-width="0.03">4</text>
<path d="M369.3 217.8H372.3" stroke="#2a2a2a" stroke-width="0.8"/>
<text x="366.5" y="220" font-size="6.2" text-anchor="end" fill="#2a2a2a" stroke="#2a2a2a" stroke-width="0.03">6</text>
<path d="M369.3 194.4H372.3" stroke="#2a2a2a" stroke-width="0.8"/>
<text x="366.5" y="196.6" font-size="6.2" text-anchor="end" fill="#2a2a2a" stroke="#2a2a2a" stroke-width="0.03">8</text>
<path d="M370.3 276.3H372.3" stroke="#2a2a2a" stroke-width="0.7"/>
<path d="M370.3 252.9H372.3" stroke="#2a2a2a" stroke-width="0.7"/>
<path d="M370.3 229.5H372.3" stroke="#2a2a2a" stroke-width="0.7"/>
<path d="M370.3 206.1H372.3" stroke="#2a2a2a" stroke-width="0.7"/>
<path d="M383.4 288V290.8" stroke="#2a2a2a" stroke-width="0.8"/>
<text x="385.9" y="296.5" font-size="5.9" text-anchor="end" fill="#222" stroke="#222" stroke-width="0.08" transform="rotate(-45 385.9 296.5)">Patient 1</text>
<path d="M407.2 288V290.8" stroke="#2a2a2a" stroke-width="0.8"/>
<text x="409.7" y="296.5" font-size="5.9" text-anchor="end" fill="#222" stroke="#222" stroke-width="0.08" transform="rotate(-45 409.7 296.5)">Patient 2</text>
<path d="M431 288V290.8" stroke="#2a2a2a" stroke-width="0.8"/>
<text x="433.5" y="296.5" font-size="5.9" text-anchor="end" fill="#222" stroke="#222" stroke-width="0.08" transform="rotate(-45 433.5 296.5)">Patient 3</text>
<path d="M454.8 288V290.8" stroke="#2a2a2a" stroke-width="0.8"/>
<text x="457.3" y="296.5" font-size="5.9" text-anchor="end" fill="#222" stroke="#222" stroke-width="0.08" transform="rotate(-45 457.3 296.5)">Patient 4</text>
<path d="M478.6 288V290.8" stroke="#2a2a2a" stroke-width="0.8"/>
<text x="481.1" y="296.5" font-size="5.9" text-anchor="end" fill="#222" stroke="#222" stroke-width="0.08" transform="rotate(-45 481.1 296.5)">Patient 5</text>
<path d="M502.4 288V290.8" stroke="#2a2a2a" stroke-width="0.8"/>
<text x="504.9" y="296.5" font-size="5.9" text-anchor="end" fill="#222" stroke="#222" stroke-width="0.08" transform="rotate(-45 504.9 296.5)">Patient 6</text>
<path d="M376.9 238V232.8H390V238" stroke="#444" stroke-width="0.75" fill="none"/>
<rect x="382.6" y="228.7" width="1.7" height="1.6" fill="#555"/>
<path d="M400.7 238V232.8H407.4V238" stroke="#444" stroke-width="0.75" fill="none"/>
<rect x="402.1" y="228.7" width="1.7" height="1.6" fill="#555"/>
<rect x="404.3" y="228.7" width="1.7" height="1.6" fill="#555"/>
<path d="M448.3 237.8V232.6H455V237.8" stroke="#444" stroke-width="0.75" fill="none"/>
<rect x="447.5" y="228.5" width="1.7" height="1.6" fill="#555"/>
<rect x="449.7" y="228.5" width="1.7" height="1.6" fill="#555"/>
<rect x="451.9" y="228.5" width="1.7" height="1.6" fill="#555"/>
<rect x="454.1" y="228.5" width="1.7" height="1.6" fill="#555"/>
<path d="M448.3 221.9V216.7H461.4V221.9" stroke="#444" stroke-width="0.75" fill="none"/>
<rect x="450.7" y="212.6" width="1.7" height="1.6" fill="#555"/>
<rect x="452.9" y="212.6" width="1.7" height="1.6" fill="#555"/>
<rect x="455.1" y="212.6" width="1.7" height="1.6" fill="#555"/>
<rect x="457.3" y="212.6" width="1.7" height="1.6" fill="#555"/>
<path d="M472.1 237.8V232.6H478.8V237.8" stroke="#444" stroke-width="0.75" fill="none"/>
<rect x="471.3" y="228.5" width="1.7" height="1.6" fill="#555"/>
<rect x="473.5" y="228.5" width="1.7" height="1.6" fill="#555"/>
<rect x="475.7" y="228.5" width="1.7" height="1.6" fill="#555"/>
<rect x="477.9" y="228.5" width="1.7" height="1.6" fill="#555"/>
<path d="M478.8 221.9V216.7H485.2V221.9" stroke="#444" stroke-width="0.75" fill="none"/>
<rect x="478.95" y="212.6" width="1.7" height="1.6" fill="#555"/>
<rect x="481.15" y="212.6" width="1.7" height="1.6" fill="#555"/>
<rect x="483.35" y="212.6" width="1.7" height="1.6" fill="#555"/>
<path d="M472.1 206.6V201.4H485.2V206.6" stroke="#444" stroke-width="0.75" fill="none"/>
<rect x="474.5" y="197.3" width="1.7" height="1.6" fill="#555"/>
<rect x="476.7" y="197.3" width="1.7" height="1.6" fill="#555"/>
<rect x="478.9" y="197.3" width="1.7" height="1.6" fill="#555"/>
<rect x="481.1" y="197.3" width="1.7" height="1.6" fill="#555"/>
<path d="M495.9 237.8V232.6H502.6V237.8" stroke="#444" stroke-width="0.75" fill="none"/>
<rect x="495.1" y="228.5" width="1.7" height="1.6" fill="#555"/>
<rect x="497.3" y="228.5" width="1.7" height="1.6" fill="#555"/>
<rect x="499.5" y="228.5" width="1.7" height="1.6" fill="#555"/>
<rect x="501.7" y="228.5" width="1.7" height="1.6" fill="#555"/>
<path d="M495.9 221.9V216.7H509V221.9" stroke="#444" stroke-width="0.75" fill="none"/>
<rect x="498.3" y="212.6" width="1.7" height="1.6" fill="#555"/>
<rect x="500.5" y="212.6" width="1.7" height="1.6" fill="#555"/>
<rect x="502.7" y="212.6" width="1.7" height="1.6" fill="#555"/>
<rect x="504.9" y="212.6" width="1.7" height="1.6" fill="#555"/>
<text x="443.8" y="186.4" font-size="7.9" text-anchor="middle" fill="#111" stroke="#111" stroke-width="0.12" font-weight="normal" >RPMI8226</text>
<text x="357.4" y="239.7" font-size="6.8" font-weight="bold" text-anchor="middle" fill="#1a1a1a" textLength="48.4" lengthAdjust="spacingAndGlyphs" transform="rotate(-90 357.4 239.7)">CD107a fold change</text>
<rect x="176.7" y="317.3" width="5.6" height="5.6" fill="#155283"/>
<text x="185.4" y="322.3" font-size="6.3" text-anchor="start" fill="#222" stroke="#222" stroke-width="0.1" font-weight="normal" textLength="51" lengthAdjust="spacingAndGlyphs">NKG2A+ NKG2C–</text>
<rect x="242.8" y="317.3" width="5.4" height="5.6" fill="#8e959d"/>
<text x="251" y="322.3" font-size="6.3" text-anchor="start" fill="#222" stroke="#222" stroke-width="0.1" font-weight="normal" textLength="51.8" lengthAdjust="spacingAndGlyphs">NKG2A– NKG2C+</text>
<rect x="308.9" y="317.3" width="5.4" height="5.6" fill="#cdd0d5"/>
<text x="316.9" y="322.3" font-size="6.3" text-anchor="start" fill="#222" stroke="#222" stroke-width="0.1" font-weight="normal" textLength="51.5" lengthAdjust="spacingAndGlyphs">NKG2A– NKG2C–</text>
<text x="8.8" y="347.8" font-size="11.3" font-weight="bold" fill="#000" stroke="#000" stroke-width="0.35">C</text>
<rect x="38.9" y="422.15" width="4" height="20.85" fill="#a4abb1" stroke="#959ca2" stroke-width="0.4"/>
<path d="M40.9 421.95V420.21M39.7 420.21H42.1" stroke="#2a2a2a" stroke-width="0.9" fill="none"/>
<rect x="46.5" y="406.96" width="4" height="36.04" fill="#155283" stroke="#0e406e" stroke-width="0.4"/>
<path d="M48.5 406.76V402.86M47.3 402.86H49.7" stroke="#2a2a2a" stroke-width="0.9" fill="none"/>
<rect x="58.9" y="421.5" width="4" height="21.5" fill="#a4abb1" stroke="#959ca2" stroke-width="0.4"/>
<path d="M59.7 421.6H62.1" stroke="#444" stroke-width="0.7" fill="none"/>
<rect x="66.5" y="418.25" width="4" height="24.75" fill="#155283" stroke="#0e406e" stroke-width="0.4"/>
<path d="M68.5 418.05V415.22M67.3 415.22H69.7" stroke="#2a2a2a" stroke-width="0.9" fill="none"/>
<rect x="78.9" y="422.15" width="4" height="20.85" fill="#a4abb1" stroke="#959ca2" stroke-width="0.4"/>
<path d="M80.9 421.95V419.13M79.7 419.13H82.1" stroke="#2a2a2a" stroke-width="0.9" fill="none"/>
<rect x="86.5" y="378.75" width="4" height="64.25" fill="#155283" stroke="#0e406e" stroke-width="0.4"/>
<path d="M87.3 378.85H89.7" stroke="#444" stroke-width="0.7" fill="none"/>
<rect x="98.9" y="421.5" width="4" height="21.5" fill="#a4abb1" stroke="#959ca2" stroke-width="0.4"/>
<path d="M100.9 421.3V420.21M99.7 420.21H102.1" stroke="#2a2a2a" stroke-width="0.9" fill="none"/>
<rect x="106.5" y="405.66" width="4" height="37.34" fill="#155283" stroke="#0e406e" stroke-width="0.4"/>
<path d="M108.5 405.46V402.2M107.3 402.2H109.7" stroke="#2a2a2a" stroke-width="0.9" fill="none"/>
<rect x="118.9" y="421.5" width="4" height="21.5" fill="#a4abb1" stroke="#959ca2" stroke-width="0.4"/>
<path d="M120.9 421.3V415.88M119.7 415.88H122.1" stroke="#2a2a2a" stroke-width="0.9" fill="none"/>
<rect x="126.5" y="396.11" width="4" height="46.89" fill="#155283" stroke="#0e406e" stroke-width="0.4"/>
<path d="M128.5 395.91V392.44M127.3 392.44H129.7" stroke="#2a2a2a" stroke-width="0.9" fill="none"/>
<rect x="138.9" y="421.5" width="4" height="21.5" fill="#a4abb1" stroke="#959ca2" stroke-width="0.4"/>
<path d="M140.9 421.3V419.13M139.7 419.13H142.1" stroke="#2a2a2a" stroke-width="0.9" fill="none"/>
<rect x="146.5" y="423.02" width="4" height="19.98" fill="#155283" stroke="#0e406e" stroke-width="0.4"/>
<path d="M147.3 423.12H149.7" stroke="#444" stroke-width="0.7" fill="none"/>
<path d="M31.2 353.7V443H154.2" stroke="#2a2a2a" stroke-width="1.3" fill="none"/>
<path d="M28.2 443H31.2" stroke="#2a2a2a" stroke-width="0.8"/>
<text x="25.4" y="445.2" font-size="6.2" text-anchor="end" fill="#2a2a2a" stroke="#2a2a2a" stroke-width="0.03">0</text>
<path d="M28.2 421.3H31.2" stroke="#2a2a2a" stroke-width="0.8"/>
<text x="25.4" y="423.5" font-size="6.2" text-anchor="end" fill="#2a2a2a" stroke="#2a2a2a" stroke-width="0.03">1</text>
<path d="M28.2 399.6H31.2" stroke="#2a2a2a" stroke-width="0.8"/>
<text x="25.4" y="401.8" font-size="6.2" text-anchor="end" fill="#2a2a2a" stroke="#2a2a2a" stroke-width="0.03">2</text>
<path d="M28.2 377.9H31.2" stroke="#2a2a2a" stroke-width="0.8"/>
<text x="25.4" y="380.1" font-size="6.2" text-anchor="end" fill="#2a2a2a" stroke="#2a2a2a" stroke-width="0.03">3</text>
<path d="M28.2 356.2H31.2" stroke="#2a2a2a" stroke-width="0.8"/>
<text x="25.4" y="358.4" font-size="6.2" text-anchor="end" fill="#2a2a2a" stroke="#2a2a2a" stroke-width="0.03">4</text>
<path d="M29.2 432.15H31.2" stroke="#2a2a2a" stroke-width="0.7"/>
<path d="M29.2 410.45H31.2" stroke="#2a2a2a" stroke-width="0.7"/>
<path d="M29.2 388.75H31.2" stroke="#2a2a2a" stroke-width="0.7"/>
<path d="M29.2 367.05H31.2" stroke="#2a2a2a" stroke-width="0.7"/>
<path d="M44.7 443V445.8" stroke="#2a2a2a" stroke-width="0.8"/>
<text x="47.2" y="451.5" font-size="5.9" text-anchor="end" fill="#222" stroke="#222" stroke-width="0.08" transform="rotate(-45 47.2 451.5)">Patient 1</text>
<path d="M64.7 443V445.8" stroke="#2a2a2a" stroke-width="0.8"/>
<text x="67.2" y="451.5" font-size="5.9" text-anchor="end" fill="#222" stroke="#222" stroke-width="0.08" transform="rotate(-45 67.2 451.5)">Patient 2</text>
<path d="M84.7 443V445.8" stroke="#2a2a2a" stroke-width="0.8"/>
<text x="87.2" y="451.5" font-size="5.9" text-anchor="end" fill="#222" stroke="#222" stroke-width="0.08" transform="rotate(-45 87.2 451.5)">Patient 3</text>
<path d="M104.7 443V445.8" stroke="#2a2a2a" stroke-width="0.8"/>
<text x="107.2" y="451.5" font-size="5.9" text-anchor="end" fill="#222" stroke="#222" stroke-width="0.08" transform="rotate(-45 107.2 451.5)">Patient 4</text>
<path d="M124.7 443V445.8" stroke="#2a2a2a" stroke-width="0.8"/>
<text x="127.2" y="451.5" font-size="5.9" text-anchor="end" fill="#222" stroke="#222" stroke-width="0.08" transform="rotate(-45 127.2 451.5)">Patient 5</text>
<path d="M144.7 443V445.8" stroke="#2a2a2a" stroke-width="0.8"/>
<text x="147.2" y="451.5" font-size="5.9" text-anchor="end" fill="#222" stroke="#222" stroke-width="0.08" transform="rotate(-45 147.2 451.5)">Patient 6</text>
<path d="M40.9 372.8V367.6H48.5V372.8" stroke="#444" stroke-width="0.75" fill="none"/>
<rect x="41.65" y="363.5" width="1.7" height="1.6" fill="#555"/>
<rect x="43.85" y="363.5" width="1.7" height="1.6" fill="#555"/>
<rect x="46.05" y="363.5" width="1.7" height="1.6" fill="#555"/>
<path d="M60.9 372.8V367.6H68.5V372.8" stroke="#444" stroke-width="0.75" fill="none"/>
<text x="64.7" y="364.6" font-size="5.6" text-anchor="middle" fill="#444">ns</text>
<path d="M80.9 372.8V367.6H88.5V372.8" stroke="#444" stroke-width="0.75" fill="none"/>
<rect x="80.55" y="363.5" width="1.7" height="1.6" fill="#555"/>
<rect x="82.75" y="363.5" width="1.7" height="1.6" fill="#555"/>
<rect x="84.95" y="363.5" width="1.7" height="1.6" fill="#555"/>
<rect x="87.15" y="363.5" width="1.7" height="1.6" fill="#555"/>
<path d="M100.9 372.8V367.6H108.5V372.8" stroke="#444" stroke-width="0.75" fill="none"/>
<rect x="101.65" y="363.5" width="1.7" height="1.6" fill="#555"/>
<rect x="103.85" y="363.5" width="1.7" height="1.6" fill="#555"/>
<rect x="106.05" y="363.5" width="1.7" height="1.6" fill="#555"/>
<path d="M120.9 372.8V367.6H128.5V372.8" stroke="#444" stroke-width="0.75" fill="none"/>
<rect x="120.55" y="363.5" width="1.7" height="1.6" fill="#555"/>
<rect x="122.75" y="363.5" width="1.7" height="1.6" fill="#555"/>
<rect x="124.95" y="363.5" width="1.7" height="1.6" fill="#555"/>
<rect x="127.15" y="363.5" width="1.7" height="1.6" fill="#555"/>
<path d="M140.9 372.8V367.6H148.5V372.8" stroke="#444" stroke-width="0.75" fill="none"/>
<text x="144.7" y="364.6" font-size="5.6" text-anchor="middle" fill="#444">ns</text>
<text x="92.7" y="348.5" font-size="8.1" text-anchor="middle" fill="#111" stroke="#111" stroke-width="0.12" font-weight="normal" >Autologous</text>
<text x="16.2" y="397.9" font-size="6.8" font-weight="bold" text-anchor="middle" fill="#1a1a1a" textLength="48" lengthAdjust="spacingAndGlyphs" transform="rotate(-90 16.2 397.9)">IFNg fold change</text>
<rect x="209.75" y="422.58" width="3.9" height="20.42" fill="#a4abb1" stroke="#959ca2" stroke-width="0.4"/>
<path d="M211.7 422.38V421.3M210.5 421.3H212.9" stroke="#2a2a2a" stroke-width="0.9" fill="none"/>
<rect x="217.35" y="405.88" width="3.9" height="37.12" fill="#155283" stroke="#0e406e" stroke-width="0.4"/>
<path d="M219.3 405.68V403.94M218.1 403.94H220.5" stroke="#2a2a2a" stroke-width="0.9" fill="none"/>
<rect x="229.8" y="421.5" width="3.9" height="21.5" fill="#a4abb1" stroke="#959ca2" stroke-width="0.4"/>
<path d="M231.75 421.3V420.87M230.55 420.87H232.95" stroke="#2a2a2a" stroke-width="0.9" fill="none"/>
<rect x="237.4" y="413.25" width="3.9" height="29.75" fill="#155283" stroke="#0e406e" stroke-width="0.4"/>
<path d="M239.35 413.05V410.45M238.15 410.45H240.55" stroke="#2a2a2a" stroke-width="0.9" fill="none"/>
<rect x="249.85" y="422.15" width="3.9" height="20.85" fill="#a4abb1" stroke="#959ca2" stroke-width="0.4"/>
<path d="M251.8 421.95V419.56M250.6 419.56H253" stroke="#2a2a2a" stroke-width="0.9" fill="none"/>
<rect x="257.45" y="411.74" width="3.9" height="31.26" fill="#155283" stroke="#0e406e" stroke-width="0.4"/>
<path d="M259.4 411.54V409.15M258.2 409.15H260.6" stroke="#2a2a2a" stroke-width="0.9" fill="none"/>
<rect x="269.9" y="421.5" width="3.9" height="21.5" fill="#a4abb1" stroke="#959ca2" stroke-width="0.4"/>
<path d="M270.65 421.6H273.05" stroke="#444" stroke-width="0.7" fill="none"/>
<rect x="277.5" y="418.9" width="3.9" height="24.1" fill="#155283" stroke="#0e406e" stroke-width="0.4"/>
<path d="M279.45 418.7V416.53M278.25 416.53H280.65" stroke="#2a2a2a" stroke-width="0.9" fill="none"/>
<rect x="289.95" y="422.15" width="3.9" height="20.85" fill="#a4abb1" stroke="#959ca2" stroke-width="0.4"/>
<path d="M291.9 421.95V418.26M290.7 418.26H293.1" stroke="#2a2a2a" stroke-width="0.9" fill="none"/>
<rect x="297.55" y="392.2" width="3.9" height="50.8" fill="#155283" stroke="#0e406e" stroke-width="0.4"/>
<path d="M299.5 392V390.27M298.3 390.27H300.7" stroke="#2a2a2a" stroke-width="0.9" fill="none"/>
<rect x="310" y="422.58" width="3.9" height="20.42" fill="#a4abb1" stroke="#959ca2" stroke-width="0.4"/>
<path d="M311.95 422.38V420.21M310.75 420.21H313.15" stroke="#2a2a2a" stroke-width="0.9" fill="none"/>
<rect x="317.6" y="418.03" width="3.9" height="24.97" fill="#155283" stroke="#0e406e" stroke-width="0.4"/>
<path d="M319.55 417.83V415.66M318.35 415.66H320.75" stroke="#2a2a2a" stroke-width="0.9" fill="none"/>
<path d="M201.7 353.7V443H324.7" stroke="#2a2a2a" stroke-width="1.3" fill="none"/>
<path d="M198.7 443H201.7" stroke="#2a2a2a" stroke-width="0.8"/>
<text x="195.9" y="445.2" font-size="6.2" text-anchor="end" fill="#2a2a2a" stroke="#2a2a2a" stroke-width="0.03">0</text>
<path d="M198.7 421.3H201.7" stroke="#2a2a2a" stroke-width="0.8"/>
<text x="195.9" y="423.5" font-size="6.2" text-anchor="end" fill="#2a2a2a" stroke="#2a2a2a" stroke-width="0.03">1</text>
<path d="M198.7 399.6H201.7" stroke="#2a2a2a" stroke-width="0.8"/>
<text x="195.9" y="401.8" font-size="6.2" text-anchor="end" fill="#2a2a2a" stroke="#2a2a2a" stroke-width="0.03">2</text>
<path d="M198.7 377.9H201.7" stroke="#2a2a2a" stroke-width="0.8"/>
<text x="195.9" y="380.1" font-size="6.2" text-anchor="end" fill="#2a2a2a" stroke="#2a2a2a" stroke-width="0.03">3</text>
<path d="M198.7 356.2H201.7" stroke="#2a2a2a" stroke-width="0.8"/>
<text x="195.9" y="358.4" font-size="6.2" text-anchor="end" fill="#2a2a2a" stroke="#2a2a2a" stroke-width="0.03">4</text>
<path d="M199.7 432.15H201.7" stroke="#2a2a2a" stroke-width="0.7"/>
<path d="M199.7 410.45H201.7" stroke="#2a2a2a" stroke-width="0.7"/>
<path d="M199.7 388.75H201.7" stroke="#2a2a2a" stroke-width="0.7"/>
<path d="M199.7 367.05H201.7" stroke="#2a2a2a" stroke-width="0.7"/>
<path d="M215.5 443V445.8" stroke="#2a2a2a" stroke-width="0.8"/>
<text x="218" y="451.5" font-size="5.9" text-anchor="end" fill="#222" stroke="#222" stroke-width="0.08" transform="rotate(-45 218 451.5)">Patient 1</text>
<path d="M235.55 443V445.8" stroke="#2a2a2a" stroke-width="0.8"/>
<text x="238.05" y="451.5" font-size="5.9" text-anchor="end" fill="#222" stroke="#222" stroke-width="0.08" transform="rotate(-45 238.05 451.5)">Patient 2</text>
<path d="M255.6 443V445.8" stroke="#2a2a2a" stroke-width="0.8"/>
<text x="258.1" y="451.5" font-size="5.9" text-anchor="end" fill="#222" stroke="#222" stroke-width="0.08" transform="rotate(-45 258.1 451.5)">Patient 3</text>
<path d="M275.65 443V445.8" stroke="#2a2a2a" stroke-width="0.8"/>
<text x="278.15" y="451.5" font-size="5.9" text-anchor="end" fill="#222" stroke="#222" stroke-width="0.08" transform="rotate(-45 278.15 451.5)">Patient 4</text>
<path d="M295.7 443V445.8" stroke="#2a2a2a" stroke-width="0.8"/>
<text x="298.2" y="451.5" font-size="5.9" text-anchor="end" fill="#222" stroke="#222" stroke-width="0.08" transform="rotate(-45 298.2 451.5)">Patient 5</text>
<path d="M315.75 443V445.8" stroke="#2a2a2a" stroke-width="0.8"/>
<text x="318.25" y="451.5" font-size="5.9" text-anchor="end" fill="#222" stroke="#222" stroke-width="0.08" transform="rotate(-45 318.25 451.5)">Patient 6</text>
<path d="M211.7 384.8V379.6H219.3V384.8" stroke="#444" stroke-width="0.75" fill="none"/>
<rect x="211.35" y="375.5" width="1.7" height="1.6" fill="#555"/>
<rect x="213.55" y="375.5" width="1.7" height="1.6" fill="#555"/>
<rect x="215.75" y="375.5" width="1.7" height="1.6" fill="#555"/>
<rect x="217.95" y="375.5" width="1.7" height="1.6" fill="#555"/>
<path d="M231.75 384.8V379.6H239.35V384.8" stroke="#444" stroke-width="0.75" fill="none"/>
<rect x="233.6" y="375.5" width="1.7" height="1.6" fill="#555"/>
<rect x="235.8" y="375.5" width="1.7" height="1.6" fill="#555"/>
<path d="M251.8 384.8V379.6H259.4V384.8" stroke="#444" stroke-width="0.75" fill="none"/>
<rect x="253.65" y="375.5" width="1.7" height="1.6" fill="#555"/>
<rect x="255.85" y="375.5" width="1.7" height="1.6" fill="#555"/>
<path d="M271.85 384.8V379.6H279.45V384.8" stroke="#444" stroke-width="0.75" fill="none"/>
<text x="275.65" y="376.6" font-size="5.6" text-anchor="middle" fill="#444">ns</text>
<path d="M291.9 384.8V379.6H299.5V384.8" stroke="#444" stroke-width="0.75" fill="none"/>
<rect x="291.55" y="375.5" width="1.7" height="1.6" fill="#555"/>
<rect x="293.75" y="375.5" width="1.7" height="1.6" fill="#555"/>
<rect x="295.95" y="375.5" width="1.7" height="1.6" fill="#555"/>
<rect x="298.15" y="375.5" width="1.7" height="1.6" fill="#555"/>
<path d="M311.95 384.8V379.6H319.55V384.8" stroke="#444" stroke-width="0.75" fill="none"/>
<text x="315.75" y="376.6" font-size="5.6" text-anchor="middle" fill="#444">ns</text>
<text x="263.1" y="348.5" font-size="8.1" text-anchor="middle" fill="#111" stroke="#111" stroke-width="0.12" font-weight="normal" >U266</text>
<text x="187.7" y="397.8" font-size="6.8" font-weight="bold" text-anchor="middle" fill="#1a1a1a" textLength="48" lengthAdjust="spacingAndGlyphs" transform="rotate(-90 187.7 397.8)">IFNg fold change</text>
<rect x="380.75" y="439.73" width="3.9" height="3.27" fill="#a4abb1" stroke="#959ca2" stroke-width="0.4"/>
<path d="M382.7 439.53V439.09M381.5 439.09H383.9" stroke="#2a2a2a" stroke-width="0.9" fill="none"/>
<rect x="388.35" y="434.95" width="3.9" height="8.05" fill="#155283" stroke="#0e406e" stroke-width="0.4"/>
<path d="M390.3 434.75V434.32M389.1 434.32H391.5" stroke="#2a2a2a" stroke-width="0.9" fill="none"/>
<rect x="400.7" y="439.73" width="3.9" height="3.27" fill="#a4abb1" stroke="#959ca2" stroke-width="0.4"/>
<path d="M402.65 439.53V439.31M401.45 439.31H403.85" stroke="#2a2a2a" stroke-width="0.9" fill="none"/>
<rect x="408.3" y="437.56" width="3.9" height="5.44" fill="#155283" stroke="#0e406e" stroke-width="0.4"/>
<path d="M410.25 437.36V436.92M409.05 436.92H411.45" stroke="#2a2a2a" stroke-width="0.9" fill="none"/>
<rect x="420.65" y="439.73" width="3.9" height="3.27" fill="#a4abb1" stroke="#959ca2" stroke-width="0.4"/>
<path d="M422.6 439.53V439.09M421.4 439.09H423.8" stroke="#2a2a2a" stroke-width="0.9" fill="none"/>
<rect x="428.25" y="435.52" width="3.9" height="7.48" fill="#155283" stroke="#0e406e" stroke-width="0.4"/>
<path d="M430.2 435.32V434.97M429 434.97H431.4" stroke="#2a2a2a" stroke-width="0.9" fill="none"/>
<rect x="440.6" y="438.64" width="3.9" height="4.36" fill="#a4abb1" stroke="#959ca2" stroke-width="0.4"/>
<path d="M442.55 438.44V438.23M441.35 438.23H443.75" stroke="#2a2a2a" stroke-width="0.9" fill="none"/>
<rect x="448.2" y="417.81" width="3.9" height="25.19" fill="#155283" stroke="#0e406e" stroke-width="0.4"/>
<path d="M450.15 417.61V417.18M448.95 417.18H451.35" stroke="#2a2a2a" stroke-width="0.9" fill="none"/>
<rect x="460.55" y="439.29" width="3.9" height="3.71" fill="#a4abb1" stroke="#959ca2" stroke-width="0.4"/>
<path d="M462.5 439.09V437.36M461.3 437.36H463.7" stroke="#2a2a2a" stroke-width="0.9" fill="none"/>
<rect x="468.15" y="410.43" width="3.9" height="32.57" fill="#155283" stroke="#0e406e" stroke-width="0.4"/>
<path d="M470.1 410.23V408.06M468.9 408.06H471.3" stroke="#2a2a2a" stroke-width="0.9" fill="none"/>
<rect x="480.5" y="439.08" width="3.9" height="3.92" fill="#a4abb1" stroke="#959ca2" stroke-width="0.4"/>
<path d="M482.45 438.88V438.66M481.25 438.66H483.65" stroke="#2a2a2a" stroke-width="0.9" fill="none"/>
<rect x="488.1" y="392.42" width="3.9" height="50.58" fill="#155283" stroke="#0e406e" stroke-width="0.4"/>
<path d="M490.05 392.22V387.88M488.85 387.88H491.25" stroke="#2a2a2a" stroke-width="0.9" fill="none"/>
<path d="M372.4 353.7V443H495.2" stroke="#2a2a2a" stroke-width="1.3" fill="none"/>
<path d="M369.4 443H372.4" stroke="#2a2a2a" stroke-width="0.8"/>
<text x="366.6" y="445.2" font-size="6.2" text-anchor="end" fill="#2a2a2a" stroke="#2a2a2a" stroke-width="0.03">0</text>
<path d="M369.4 421.3H372.4" stroke="#2a2a2a" stroke-width="0.8"/>
<text x="366.6" y="423.5" font-size="6.2" text-anchor="end" fill="#2a2a2a" stroke="#2a2a2a" stroke-width="0.03">5</text>
<path d="M369.4 399.6H372.4" stroke="#2a2a2a" stroke-width="0.8"/>
<text x="366.6" y="401.8" font-size="6.2" text-anchor="end" fill="#2a2a2a" stroke="#2a2a2a" stroke-width="0.03">10</text>
<path d="M369.4 377.9H372.4" stroke="#2a2a2a" stroke-width="0.8"/>
<text x="366.6" y="380.1" font-size="6.2" text-anchor="end" fill="#2a2a2a" stroke="#2a2a2a" stroke-width="0.03">15</text>
<path d="M369.4 356.2H372.4" stroke="#2a2a2a" stroke-width="0.8"/>
<text x="366.6" y="358.4" font-size="6.2" text-anchor="end" fill="#2a2a2a" stroke="#2a2a2a" stroke-width="0.03">20</text>
<path d="M370.4 432.15H372.4" stroke="#2a2a2a" stroke-width="0.7"/>
<path d="M370.4 410.45H372.4" stroke="#2a2a2a" stroke-width="0.7"/>
<path d="M370.4 388.75H372.4" stroke="#2a2a2a" stroke-width="0.7"/>
<path d="M370.4 367.05H372.4" stroke="#2a2a2a" stroke-width="0.7"/>
<path d="M386.5 443V445.8" stroke="#2a2a2a" stroke-width="0.8"/>
<text x="389" y="451.5" font-size="5.9" text-anchor="end" fill="#222" stroke="#222" stroke-width="0.08" transform="rotate(-45 389 451.5)">Patient 1</text>
<path d="M406.45 443V445.8" stroke="#2a2a2a" stroke-width="0.8"/>
<text x="408.95" y="451.5" font-size="5.9" text-anchor="end" fill="#222" stroke="#222" stroke-width="0.08" transform="rotate(-45 408.95 451.5)">Patient 2</text>
<path d="M426.4 443V445.8" stroke="#2a2a2a" stroke-width="0.8"/>
<text x="428.9" y="451.5" font-size="5.9" text-anchor="end" fill="#222" stroke="#222" stroke-width="0.08" transform="rotate(-45 428.9 451.5)">Patient 3</text>
<path d="M446.35 443V445.8" stroke="#2a2a2a" stroke-width="0.8"/>
<text x="448.85" y="451.5" font-size="5.9" text-anchor="end" fill="#222" stroke="#222" stroke-width="0.08" transform="rotate(-45 448.85 451.5)">Patient 4</text>
<path d="M466.3 443V445.8" stroke="#2a2a2a" stroke-width="0.8"/>
<text x="468.8" y="451.5" font-size="5.9" text-anchor="end" fill="#222" stroke="#222" stroke-width="0.08" transform="rotate(-45 468.8 451.5)">Patient 5</text>
<path d="M486.25 443V445.8" stroke="#2a2a2a" stroke-width="0.8"/>
<text x="488.75" y="451.5" font-size="5.9" text-anchor="end" fill="#222" stroke="#222" stroke-width="0.08" transform="rotate(-45 488.75 451.5)">Patient 6</text>
<path d="M382.7 383.2V378H390.3V383.2" stroke="#444" stroke-width="0.75" fill="none"/>
<text x="386.5" y="375" font-size="5.6" text-anchor="middle" fill="#444">ns</text>
<path d="M402.65 383.2V378H410.25V383.2" stroke="#444" stroke-width="0.75" fill="none"/>
<text x="406.45" y="375" font-size="5.6" text-anchor="middle" fill="#444">ns</text>
<path d="M422.6 383.2V378H430.2V383.2" stroke="#444" stroke-width="0.75" fill="none"/>
<text x="426.4" y="375" font-size="5.6" text-anchor="middle" fill="#444">ns</text>
<path d="M442.55 383.2V378H450.15V383.2" stroke="#444" stroke-width="0.75" fill="none"/>
<rect x="442.2" y="373.9" width="1.7" height="1.6" fill="#555"/>
<rect x="444.4" y="373.9" width="1.7" height="1.6" fill="#555"/>
<rect x="446.6" y="373.9" width="1.7" height="1.6" fill="#555"/>
<rect x="448.8" y="373.9" width="1.7" height="1.6" fill="#555"/>
<path d="M462.5 383.2V378H470.1V383.2" stroke="#444" stroke-width="0.75" fill="none"/>
<rect x="462.15" y="373.9" width="1.7" height="1.6" fill="#555"/>
<rect x="464.35" y="373.9" width="1.7" height="1.6" fill="#555"/>
<rect x="466.55" y="373.9" width="1.7" height="1.6" fill="#555"/>
<rect x="468.75" y="373.9" width="1.7" height="1.6" fill="#555"/>
<path d="M482.45 383.2V378H490.05V383.2" stroke="#444" stroke-width="0.75" fill="none"/>
<rect x="482.1" y="373.9" width="1.7" height="1.6" fill="#555"/>
<rect x="484.3" y="373.9" width="1.7" height="1.6" fill="#555"/>
<rect x="486.5" y="373.9" width="1.7" height="1.6" fill="#555"/>
<rect x="488.7" y="373.9" width="1.7" height="1.6" fill="#555"/>
<text x="434.5" y="348.5" font-size="8.1" text-anchor="middle" fill="#111" stroke="#111" stroke-width="0.12" font-weight="normal" >RPMI8226</text>
<text x="354" y="397.8" font-size="6.8" font-weight="bold" text-anchor="middle" fill="#1a1a1a" textLength="48" lengthAdjust="spacingAndGlyphs" transform="rotate(-90 354 397.8)">IFNg fold change</text>
<rect x="227.3" y="475.7" width="5.2" height="5.2" fill="#a4abb1"/>
<text x="235.9" y="480.3" font-size="6" text-anchor="start" fill="#222" stroke="#222" stroke-width="0.1" font-weight="normal" textLength="38.1" lengthAdjust="spacingAndGlyphs">Isotype control</text>
<rect x="280" y="475.7" width="5.4" height="5.2" fill="#155283"/>
<text x="288.3" y="480.3" font-size="6" text-anchor="start" fill="#222" stroke="#222" stroke-width="0.1" font-weight="normal" >4D7</text>
</svg></body></html>
